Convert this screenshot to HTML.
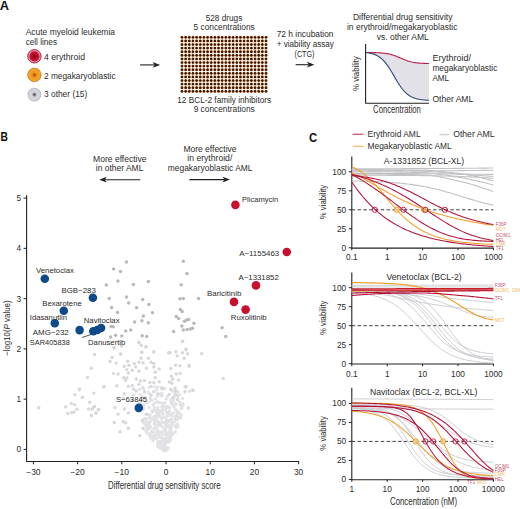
<!DOCTYPE html>
<html><head><meta charset="utf-8"><style>
html,body{margin:0;padding:0;background:#fff;}
svg{display:block;}
text{font-family:"Liberation Sans", sans-serif;}
</style></head><body>
<svg width="520" height="509" viewBox="0 0 520 509">
<rect width="520" height="509" fill="#fff"/>
<defs>
<radialGradient id="gEry"><stop offset="0" stop-color="#8a0418"/><stop offset="0.5" stop-color="#b80a28"/><stop offset="1" stop-color="#c81838"/></radialGradient>
<radialGradient id="gMeg"><stop offset="0" stop-color="#7a3000"/><stop offset="0.15" stop-color="#c86a10"/><stop offset="0.4" stop-color="#eb9a20"/><stop offset="0.85" stop-color="#f2a62a"/><stop offset="1" stop-color="#d8882a"/></radialGradient>
<radialGradient id="gDot"><stop offset="0" stop-color="#2a1000"/><stop offset="0.55" stop-color="#4a2005"/><stop offset="1" stop-color="#b87038"/></radialGradient>
<radialGradient id="gOth"><stop offset="0" stop-color="#2a2a2a"/><stop offset="0.17" stop-color="#8a8a90"/><stop offset="0.38" stop-color="#d4d4dc"/><stop offset="0.8" stop-color="#d2d2da"/><stop offset="1" stop-color="#b0b0b8"/></radialGradient>
</defs>
<text x="-0.2" y="9.9" font-size="12.0" fill="#111" font-weight="bold" text-anchor="start" textLength="9.3" lengthAdjust="spacingAndGlyphs">A</text>
<text x="25.7" y="35.0" font-size="8.5" fill="#2b2b2b" font-weight="normal" text-anchor="start" textLength="89.3" lengthAdjust="spacingAndGlyphs">Acute myeloid leukemia</text>
<text x="25.7" y="44.6" font-size="8.5" fill="#2b2b2b" font-weight="normal" text-anchor="start" textLength="31.3" lengthAdjust="spacingAndGlyphs">cell lines</text>
<circle cx="34.4" cy="56.3" r="6.7" fill="#eb9aae" stroke="#a80c2c" stroke-width="0.9"/>
<circle cx="34.4" cy="56.3" r="5.1" fill="url(#gEry)"/>
<circle cx="34.4" cy="74.9" r="6.8" fill="url(#gMeg)" stroke="#c8802a" stroke-width="0.7"/>
<circle cx="34.4" cy="94.6" r="6.9" fill="url(#gOth)"/>
<text x="44.0" y="59.6" font-size="8.5" fill="#2b2b2b" font-weight="normal" text-anchor="start" textLength="41.0" lengthAdjust="spacingAndGlyphs">4 erythroid</text>
<text x="44.0" y="78.5" font-size="8.5" fill="#2b2b2b" font-weight="normal" text-anchor="start" textLength="71.6" lengthAdjust="spacingAndGlyphs">2 megakaryoblastic</text>
<text x="44.0" y="97.4" font-size="8.5" fill="#2b2b2b" font-weight="normal" text-anchor="start" textLength="43.3" lengthAdjust="spacingAndGlyphs">3 other (15)</text>
<line x1="140.10" y1="64.90" x2="154.57" y2="64.90" stroke="#222" stroke-width="1.1"/>
<path d="M160.20,64.90 L152.70,62.00 L154.57,64.90 L152.70,67.80 Z" fill="#222"/>
<text x="224.0" y="20.6" font-size="8.5" fill="#2b2b2b" font-weight="normal" text-anchor="middle" textLength="36.7" lengthAdjust="spacingAndGlyphs">528 drugs</text>
<text x="224.1" y="30.1" font-size="8.5" fill="#2b2b2b" font-weight="normal" text-anchor="middle" textLength="61.2" lengthAdjust="spacingAndGlyphs">5 concentrations</text>
<g fill="url(#gDot)">
<circle cx="182.00" cy="37.30" r="1.62"/>
<circle cx="185.65" cy="37.30" r="1.62"/>
<circle cx="189.30" cy="37.30" r="1.62"/>
<circle cx="192.96" cy="37.30" r="1.62"/>
<circle cx="196.61" cy="37.30" r="1.62"/>
<circle cx="200.26" cy="37.30" r="1.62"/>
<circle cx="203.91" cy="37.30" r="1.62"/>
<circle cx="207.57" cy="37.30" r="1.62"/>
<circle cx="211.22" cy="37.30" r="1.62"/>
<circle cx="214.87" cy="37.30" r="1.62"/>
<circle cx="218.52" cy="37.30" r="1.62"/>
<circle cx="222.17" cy="37.30" r="1.62"/>
<circle cx="225.83" cy="37.30" r="1.62"/>
<circle cx="229.48" cy="37.30" r="1.62"/>
<circle cx="233.13" cy="37.30" r="1.62"/>
<circle cx="236.78" cy="37.30" r="1.62"/>
<circle cx="240.43" cy="37.30" r="1.62"/>
<circle cx="244.09" cy="37.30" r="1.62"/>
<circle cx="247.74" cy="37.30" r="1.62"/>
<circle cx="251.39" cy="37.30" r="1.62"/>
<circle cx="255.04" cy="37.30" r="1.62"/>
<circle cx="258.70" cy="37.30" r="1.62"/>
<circle cx="262.35" cy="37.30" r="1.62"/>
<circle cx="266.00" cy="37.30" r="1.62"/>
<circle cx="182.00" cy="40.90" r="1.62"/>
<circle cx="185.65" cy="40.90" r="1.62"/>
<circle cx="189.30" cy="40.90" r="1.62"/>
<circle cx="192.96" cy="40.90" r="1.62"/>
<circle cx="196.61" cy="40.90" r="1.62"/>
<circle cx="200.26" cy="40.90" r="1.62"/>
<circle cx="203.91" cy="40.90" r="1.62"/>
<circle cx="207.57" cy="40.90" r="1.62"/>
<circle cx="211.22" cy="40.90" r="1.62"/>
<circle cx="214.87" cy="40.90" r="1.62"/>
<circle cx="218.52" cy="40.90" r="1.62"/>
<circle cx="222.17" cy="40.90" r="1.62"/>
<circle cx="225.83" cy="40.90" r="1.62"/>
<circle cx="229.48" cy="40.90" r="1.62"/>
<circle cx="233.13" cy="40.90" r="1.62"/>
<circle cx="236.78" cy="40.90" r="1.62"/>
<circle cx="240.43" cy="40.90" r="1.62"/>
<circle cx="244.09" cy="40.90" r="1.62"/>
<circle cx="247.74" cy="40.90" r="1.62"/>
<circle cx="251.39" cy="40.90" r="1.62"/>
<circle cx="255.04" cy="40.90" r="1.62"/>
<circle cx="258.70" cy="40.90" r="1.62"/>
<circle cx="262.35" cy="40.90" r="1.62"/>
<circle cx="266.00" cy="40.90" r="1.62"/>
<circle cx="182.00" cy="44.50" r="1.62"/>
<circle cx="185.65" cy="44.50" r="1.62"/>
<circle cx="189.30" cy="44.50" r="1.62"/>
<circle cx="192.96" cy="44.50" r="1.62"/>
<circle cx="196.61" cy="44.50" r="1.62"/>
<circle cx="200.26" cy="44.50" r="1.62"/>
<circle cx="203.91" cy="44.50" r="1.62"/>
<circle cx="207.57" cy="44.50" r="1.62"/>
<circle cx="211.22" cy="44.50" r="1.62"/>
<circle cx="214.87" cy="44.50" r="1.62"/>
<circle cx="218.52" cy="44.50" r="1.62"/>
<circle cx="222.17" cy="44.50" r="1.62"/>
<circle cx="225.83" cy="44.50" r="1.62"/>
<circle cx="229.48" cy="44.50" r="1.62"/>
<circle cx="233.13" cy="44.50" r="1.62"/>
<circle cx="236.78" cy="44.50" r="1.62"/>
<circle cx="240.43" cy="44.50" r="1.62"/>
<circle cx="244.09" cy="44.50" r="1.62"/>
<circle cx="247.74" cy="44.50" r="1.62"/>
<circle cx="251.39" cy="44.50" r="1.62"/>
<circle cx="255.04" cy="44.50" r="1.62"/>
<circle cx="258.70" cy="44.50" r="1.62"/>
<circle cx="262.35" cy="44.50" r="1.62"/>
<circle cx="266.00" cy="44.50" r="1.62"/>
<circle cx="182.00" cy="48.10" r="1.62"/>
<circle cx="185.65" cy="48.10" r="1.62"/>
<circle cx="189.30" cy="48.10" r="1.62"/>
<circle cx="192.96" cy="48.10" r="1.62"/>
<circle cx="196.61" cy="48.10" r="1.62"/>
<circle cx="200.26" cy="48.10" r="1.62"/>
<circle cx="203.91" cy="48.10" r="1.62"/>
<circle cx="207.57" cy="48.10" r="1.62"/>
<circle cx="211.22" cy="48.10" r="1.62"/>
<circle cx="214.87" cy="48.10" r="1.62"/>
<circle cx="218.52" cy="48.10" r="1.62"/>
<circle cx="222.17" cy="48.10" r="1.62"/>
<circle cx="225.83" cy="48.10" r="1.62"/>
<circle cx="229.48" cy="48.10" r="1.62"/>
<circle cx="233.13" cy="48.10" r="1.62"/>
<circle cx="236.78" cy="48.10" r="1.62"/>
<circle cx="240.43" cy="48.10" r="1.62"/>
<circle cx="244.09" cy="48.10" r="1.62"/>
<circle cx="247.74" cy="48.10" r="1.62"/>
<circle cx="251.39" cy="48.10" r="1.62"/>
<circle cx="255.04" cy="48.10" r="1.62"/>
<circle cx="258.70" cy="48.10" r="1.62"/>
<circle cx="262.35" cy="48.10" r="1.62"/>
<circle cx="266.00" cy="48.10" r="1.62"/>
<circle cx="182.00" cy="51.70" r="1.62"/>
<circle cx="185.65" cy="51.70" r="1.62"/>
<circle cx="189.30" cy="51.70" r="1.62"/>
<circle cx="192.96" cy="51.70" r="1.62"/>
<circle cx="196.61" cy="51.70" r="1.62"/>
<circle cx="200.26" cy="51.70" r="1.62"/>
<circle cx="203.91" cy="51.70" r="1.62"/>
<circle cx="207.57" cy="51.70" r="1.62"/>
<circle cx="211.22" cy="51.70" r="1.62"/>
<circle cx="214.87" cy="51.70" r="1.62"/>
<circle cx="218.52" cy="51.70" r="1.62"/>
<circle cx="222.17" cy="51.70" r="1.62"/>
<circle cx="225.83" cy="51.70" r="1.62"/>
<circle cx="229.48" cy="51.70" r="1.62"/>
<circle cx="233.13" cy="51.70" r="1.62"/>
<circle cx="236.78" cy="51.70" r="1.62"/>
<circle cx="240.43" cy="51.70" r="1.62"/>
<circle cx="244.09" cy="51.70" r="1.62"/>
<circle cx="247.74" cy="51.70" r="1.62"/>
<circle cx="251.39" cy="51.70" r="1.62"/>
<circle cx="255.04" cy="51.70" r="1.62"/>
<circle cx="258.70" cy="51.70" r="1.62"/>
<circle cx="262.35" cy="51.70" r="1.62"/>
<circle cx="266.00" cy="51.70" r="1.62"/>
<circle cx="182.00" cy="55.30" r="1.62"/>
<circle cx="185.65" cy="55.30" r="1.62"/>
<circle cx="189.30" cy="55.30" r="1.62"/>
<circle cx="192.96" cy="55.30" r="1.62"/>
<circle cx="196.61" cy="55.30" r="1.62"/>
<circle cx="200.26" cy="55.30" r="1.62"/>
<circle cx="203.91" cy="55.30" r="1.62"/>
<circle cx="207.57" cy="55.30" r="1.62"/>
<circle cx="211.22" cy="55.30" r="1.62"/>
<circle cx="214.87" cy="55.30" r="1.62"/>
<circle cx="218.52" cy="55.30" r="1.62"/>
<circle cx="222.17" cy="55.30" r="1.62"/>
<circle cx="225.83" cy="55.30" r="1.62"/>
<circle cx="229.48" cy="55.30" r="1.62"/>
<circle cx="233.13" cy="55.30" r="1.62"/>
<circle cx="236.78" cy="55.30" r="1.62"/>
<circle cx="240.43" cy="55.30" r="1.62"/>
<circle cx="244.09" cy="55.30" r="1.62"/>
<circle cx="247.74" cy="55.30" r="1.62"/>
<circle cx="251.39" cy="55.30" r="1.62"/>
<circle cx="255.04" cy="55.30" r="1.62"/>
<circle cx="258.70" cy="55.30" r="1.62"/>
<circle cx="262.35" cy="55.30" r="1.62"/>
<circle cx="266.00" cy="55.30" r="1.62"/>
<circle cx="182.00" cy="58.90" r="1.62"/>
<circle cx="185.65" cy="58.90" r="1.62"/>
<circle cx="189.30" cy="58.90" r="1.62"/>
<circle cx="192.96" cy="58.90" r="1.62"/>
<circle cx="196.61" cy="58.90" r="1.62"/>
<circle cx="200.26" cy="58.90" r="1.62"/>
<circle cx="203.91" cy="58.90" r="1.62"/>
<circle cx="207.57" cy="58.90" r="1.62"/>
<circle cx="211.22" cy="58.90" r="1.62"/>
<circle cx="214.87" cy="58.90" r="1.62"/>
<circle cx="218.52" cy="58.90" r="1.62"/>
<circle cx="222.17" cy="58.90" r="1.62"/>
<circle cx="225.83" cy="58.90" r="1.62"/>
<circle cx="229.48" cy="58.90" r="1.62"/>
<circle cx="233.13" cy="58.90" r="1.62"/>
<circle cx="236.78" cy="58.90" r="1.62"/>
<circle cx="240.43" cy="58.90" r="1.62"/>
<circle cx="244.09" cy="58.90" r="1.62"/>
<circle cx="247.74" cy="58.90" r="1.62"/>
<circle cx="251.39" cy="58.90" r="1.62"/>
<circle cx="255.04" cy="58.90" r="1.62"/>
<circle cx="258.70" cy="58.90" r="1.62"/>
<circle cx="262.35" cy="58.90" r="1.62"/>
<circle cx="266.00" cy="58.90" r="1.62"/>
<circle cx="182.00" cy="62.50" r="1.62"/>
<circle cx="185.65" cy="62.50" r="1.62"/>
<circle cx="189.30" cy="62.50" r="1.62"/>
<circle cx="192.96" cy="62.50" r="1.62"/>
<circle cx="196.61" cy="62.50" r="1.62"/>
<circle cx="200.26" cy="62.50" r="1.62"/>
<circle cx="203.91" cy="62.50" r="1.62"/>
<circle cx="207.57" cy="62.50" r="1.62"/>
<circle cx="211.22" cy="62.50" r="1.62"/>
<circle cx="214.87" cy="62.50" r="1.62"/>
<circle cx="218.52" cy="62.50" r="1.62"/>
<circle cx="222.17" cy="62.50" r="1.62"/>
<circle cx="225.83" cy="62.50" r="1.62"/>
<circle cx="229.48" cy="62.50" r="1.62"/>
<circle cx="233.13" cy="62.50" r="1.62"/>
<circle cx="236.78" cy="62.50" r="1.62"/>
<circle cx="240.43" cy="62.50" r="1.62"/>
<circle cx="244.09" cy="62.50" r="1.62"/>
<circle cx="247.74" cy="62.50" r="1.62"/>
<circle cx="251.39" cy="62.50" r="1.62"/>
<circle cx="255.04" cy="62.50" r="1.62"/>
<circle cx="258.70" cy="62.50" r="1.62"/>
<circle cx="262.35" cy="62.50" r="1.62"/>
<circle cx="266.00" cy="62.50" r="1.62"/>
<circle cx="182.00" cy="66.10" r="1.62"/>
<circle cx="185.65" cy="66.10" r="1.62"/>
<circle cx="189.30" cy="66.10" r="1.62"/>
<circle cx="192.96" cy="66.10" r="1.62"/>
<circle cx="196.61" cy="66.10" r="1.62"/>
<circle cx="200.26" cy="66.10" r="1.62"/>
<circle cx="203.91" cy="66.10" r="1.62"/>
<circle cx="207.57" cy="66.10" r="1.62"/>
<circle cx="211.22" cy="66.10" r="1.62"/>
<circle cx="214.87" cy="66.10" r="1.62"/>
<circle cx="218.52" cy="66.10" r="1.62"/>
<circle cx="222.17" cy="66.10" r="1.62"/>
<circle cx="225.83" cy="66.10" r="1.62"/>
<circle cx="229.48" cy="66.10" r="1.62"/>
<circle cx="233.13" cy="66.10" r="1.62"/>
<circle cx="236.78" cy="66.10" r="1.62"/>
<circle cx="240.43" cy="66.10" r="1.62"/>
<circle cx="244.09" cy="66.10" r="1.62"/>
<circle cx="247.74" cy="66.10" r="1.62"/>
<circle cx="251.39" cy="66.10" r="1.62"/>
<circle cx="255.04" cy="66.10" r="1.62"/>
<circle cx="258.70" cy="66.10" r="1.62"/>
<circle cx="262.35" cy="66.10" r="1.62"/>
<circle cx="266.00" cy="66.10" r="1.62"/>
<circle cx="182.00" cy="69.70" r="1.62"/>
<circle cx="185.65" cy="69.70" r="1.62"/>
<circle cx="189.30" cy="69.70" r="1.62"/>
<circle cx="192.96" cy="69.70" r="1.62"/>
<circle cx="196.61" cy="69.70" r="1.62"/>
<circle cx="200.26" cy="69.70" r="1.62"/>
<circle cx="203.91" cy="69.70" r="1.62"/>
<circle cx="207.57" cy="69.70" r="1.62"/>
<circle cx="211.22" cy="69.70" r="1.62"/>
<circle cx="214.87" cy="69.70" r="1.62"/>
<circle cx="218.52" cy="69.70" r="1.62"/>
<circle cx="222.17" cy="69.70" r="1.62"/>
<circle cx="225.83" cy="69.70" r="1.62"/>
<circle cx="229.48" cy="69.70" r="1.62"/>
<circle cx="233.13" cy="69.70" r="1.62"/>
<circle cx="236.78" cy="69.70" r="1.62"/>
<circle cx="240.43" cy="69.70" r="1.62"/>
<circle cx="244.09" cy="69.70" r="1.62"/>
<circle cx="247.74" cy="69.70" r="1.62"/>
<circle cx="251.39" cy="69.70" r="1.62"/>
<circle cx="255.04" cy="69.70" r="1.62"/>
<circle cx="258.70" cy="69.70" r="1.62"/>
<circle cx="262.35" cy="69.70" r="1.62"/>
<circle cx="266.00" cy="69.70" r="1.62"/>
<circle cx="182.00" cy="73.30" r="1.62"/>
<circle cx="185.65" cy="73.30" r="1.62"/>
<circle cx="189.30" cy="73.30" r="1.62"/>
<circle cx="192.96" cy="73.30" r="1.62"/>
<circle cx="196.61" cy="73.30" r="1.62"/>
<circle cx="200.26" cy="73.30" r="1.62"/>
<circle cx="203.91" cy="73.30" r="1.62"/>
<circle cx="207.57" cy="73.30" r="1.62"/>
<circle cx="211.22" cy="73.30" r="1.62"/>
<circle cx="214.87" cy="73.30" r="1.62"/>
<circle cx="218.52" cy="73.30" r="1.62"/>
<circle cx="222.17" cy="73.30" r="1.62"/>
<circle cx="225.83" cy="73.30" r="1.62"/>
<circle cx="229.48" cy="73.30" r="1.62"/>
<circle cx="233.13" cy="73.30" r="1.62"/>
<circle cx="236.78" cy="73.30" r="1.62"/>
<circle cx="240.43" cy="73.30" r="1.62"/>
<circle cx="244.09" cy="73.30" r="1.62"/>
<circle cx="247.74" cy="73.30" r="1.62"/>
<circle cx="251.39" cy="73.30" r="1.62"/>
<circle cx="255.04" cy="73.30" r="1.62"/>
<circle cx="258.70" cy="73.30" r="1.62"/>
<circle cx="262.35" cy="73.30" r="1.62"/>
<circle cx="266.00" cy="73.30" r="1.62"/>
<circle cx="182.00" cy="76.90" r="1.62"/>
<circle cx="185.65" cy="76.90" r="1.62"/>
<circle cx="189.30" cy="76.90" r="1.62"/>
<circle cx="192.96" cy="76.90" r="1.62"/>
<circle cx="196.61" cy="76.90" r="1.62"/>
<circle cx="200.26" cy="76.90" r="1.62"/>
<circle cx="203.91" cy="76.90" r="1.62"/>
<circle cx="207.57" cy="76.90" r="1.62"/>
<circle cx="211.22" cy="76.90" r="1.62"/>
<circle cx="214.87" cy="76.90" r="1.62"/>
<circle cx="218.52" cy="76.90" r="1.62"/>
<circle cx="222.17" cy="76.90" r="1.62"/>
<circle cx="225.83" cy="76.90" r="1.62"/>
<circle cx="229.48" cy="76.90" r="1.62"/>
<circle cx="233.13" cy="76.90" r="1.62"/>
<circle cx="236.78" cy="76.90" r="1.62"/>
<circle cx="240.43" cy="76.90" r="1.62"/>
<circle cx="244.09" cy="76.90" r="1.62"/>
<circle cx="247.74" cy="76.90" r="1.62"/>
<circle cx="251.39" cy="76.90" r="1.62"/>
<circle cx="255.04" cy="76.90" r="1.62"/>
<circle cx="258.70" cy="76.90" r="1.62"/>
<circle cx="262.35" cy="76.90" r="1.62"/>
<circle cx="266.00" cy="76.90" r="1.62"/>
<circle cx="182.00" cy="80.50" r="1.62"/>
<circle cx="185.65" cy="80.50" r="1.62"/>
<circle cx="189.30" cy="80.50" r="1.62"/>
<circle cx="192.96" cy="80.50" r="1.62"/>
<circle cx="196.61" cy="80.50" r="1.62"/>
<circle cx="200.26" cy="80.50" r="1.62"/>
<circle cx="203.91" cy="80.50" r="1.62"/>
<circle cx="207.57" cy="80.50" r="1.62"/>
<circle cx="211.22" cy="80.50" r="1.62"/>
<circle cx="214.87" cy="80.50" r="1.62"/>
<circle cx="218.52" cy="80.50" r="1.62"/>
<circle cx="222.17" cy="80.50" r="1.62"/>
<circle cx="225.83" cy="80.50" r="1.62"/>
<circle cx="229.48" cy="80.50" r="1.62"/>
<circle cx="233.13" cy="80.50" r="1.62"/>
<circle cx="236.78" cy="80.50" r="1.62"/>
<circle cx="240.43" cy="80.50" r="1.62"/>
<circle cx="244.09" cy="80.50" r="1.62"/>
<circle cx="247.74" cy="80.50" r="1.62"/>
<circle cx="251.39" cy="80.50" r="1.62"/>
<circle cx="255.04" cy="80.50" r="1.62"/>
<circle cx="258.70" cy="80.50" r="1.62"/>
<circle cx="262.35" cy="80.50" r="1.62"/>
<circle cx="266.00" cy="80.50" r="1.62"/>
<circle cx="182.00" cy="84.10" r="1.62"/>
<circle cx="185.65" cy="84.10" r="1.62"/>
<circle cx="189.30" cy="84.10" r="1.62"/>
<circle cx="192.96" cy="84.10" r="1.62"/>
<circle cx="196.61" cy="84.10" r="1.62"/>
<circle cx="200.26" cy="84.10" r="1.62"/>
<circle cx="203.91" cy="84.10" r="1.62"/>
<circle cx="207.57" cy="84.10" r="1.62"/>
<circle cx="211.22" cy="84.10" r="1.62"/>
<circle cx="214.87" cy="84.10" r="1.62"/>
<circle cx="218.52" cy="84.10" r="1.62"/>
<circle cx="222.17" cy="84.10" r="1.62"/>
<circle cx="225.83" cy="84.10" r="1.62"/>
<circle cx="229.48" cy="84.10" r="1.62"/>
<circle cx="233.13" cy="84.10" r="1.62"/>
<circle cx="236.78" cy="84.10" r="1.62"/>
<circle cx="240.43" cy="84.10" r="1.62"/>
<circle cx="244.09" cy="84.10" r="1.62"/>
<circle cx="247.74" cy="84.10" r="1.62"/>
<circle cx="251.39" cy="84.10" r="1.62"/>
<circle cx="255.04" cy="84.10" r="1.62"/>
<circle cx="258.70" cy="84.10" r="1.62"/>
<circle cx="262.35" cy="84.10" r="1.62"/>
<circle cx="266.00" cy="84.10" r="1.62"/>
<circle cx="182.00" cy="87.70" r="1.62"/>
<circle cx="185.65" cy="87.70" r="1.62"/>
<circle cx="189.30" cy="87.70" r="1.62"/>
<circle cx="192.96" cy="87.70" r="1.62"/>
<circle cx="196.61" cy="87.70" r="1.62"/>
<circle cx="200.26" cy="87.70" r="1.62"/>
<circle cx="203.91" cy="87.70" r="1.62"/>
<circle cx="207.57" cy="87.70" r="1.62"/>
<circle cx="211.22" cy="87.70" r="1.62"/>
<circle cx="214.87" cy="87.70" r="1.62"/>
<circle cx="218.52" cy="87.70" r="1.62"/>
<circle cx="222.17" cy="87.70" r="1.62"/>
<circle cx="225.83" cy="87.70" r="1.62"/>
<circle cx="229.48" cy="87.70" r="1.62"/>
<circle cx="233.13" cy="87.70" r="1.62"/>
<circle cx="236.78" cy="87.70" r="1.62"/>
<circle cx="240.43" cy="87.70" r="1.62"/>
<circle cx="244.09" cy="87.70" r="1.62"/>
<circle cx="247.74" cy="87.70" r="1.62"/>
<circle cx="251.39" cy="87.70" r="1.62"/>
<circle cx="255.04" cy="87.70" r="1.62"/>
<circle cx="258.70" cy="87.70" r="1.62"/>
<circle cx="262.35" cy="87.70" r="1.62"/>
<circle cx="266.00" cy="87.70" r="1.62"/>
<circle cx="182.00" cy="91.30" r="1.62"/>
<circle cx="185.65" cy="91.30" r="1.62"/>
<circle cx="189.30" cy="91.30" r="1.62"/>
<circle cx="192.96" cy="91.30" r="1.62"/>
<circle cx="196.61" cy="91.30" r="1.62"/>
<circle cx="200.26" cy="91.30" r="1.62"/>
<circle cx="203.91" cy="91.30" r="1.62"/>
<circle cx="207.57" cy="91.30" r="1.62"/>
<circle cx="211.22" cy="91.30" r="1.62"/>
<circle cx="214.87" cy="91.30" r="1.62"/>
<circle cx="218.52" cy="91.30" r="1.62"/>
<circle cx="222.17" cy="91.30" r="1.62"/>
<circle cx="225.83" cy="91.30" r="1.62"/>
<circle cx="229.48" cy="91.30" r="1.62"/>
<circle cx="233.13" cy="91.30" r="1.62"/>
<circle cx="236.78" cy="91.30" r="1.62"/>
<circle cx="240.43" cy="91.30" r="1.62"/>
<circle cx="244.09" cy="91.30" r="1.62"/>
<circle cx="247.74" cy="91.30" r="1.62"/>
<circle cx="251.39" cy="91.30" r="1.62"/>
<circle cx="255.04" cy="91.30" r="1.62"/>
<circle cx="258.70" cy="91.30" r="1.62"/>
<circle cx="262.35" cy="91.30" r="1.62"/>
<circle cx="266.00" cy="91.30" r="1.62"/>
</g>
<text x="224.2" y="103.4" font-size="8.5" fill="#2b2b2b" font-weight="normal" text-anchor="middle" textLength="93.9" lengthAdjust="spacingAndGlyphs">12 BCL-2 family inhibitors</text>
<text x="224.2" y="112.4" font-size="8.5" fill="#2b2b2b" font-weight="normal" text-anchor="middle" textLength="61.1" lengthAdjust="spacingAndGlyphs">9 concentrations</text>
<text x="305.1" y="37.4" font-size="8.5" fill="#2b2b2b" font-weight="normal" text-anchor="middle" textLength="56.8" lengthAdjust="spacingAndGlyphs">72 h incubation</text>
<text x="305.3" y="47.2" font-size="8.5" fill="#2b2b2b" font-weight="normal" text-anchor="middle" textLength="57.3" lengthAdjust="spacingAndGlyphs">+ viability assay</text>
<text x="304.5" y="56.6" font-size="8.5" fill="#2b2b2b" font-weight="normal" text-anchor="middle" textLength="19.8" lengthAdjust="spacingAndGlyphs">(CTG)</text>
<line x1="295.60" y1="64.70" x2="308.77" y2="64.70" stroke="#222" stroke-width="1.1"/>
<path d="M314.40,64.70 L306.90,61.80 L308.77,64.70 L306.90,67.60 Z" fill="#222"/>
<text x="402.7" y="20.1" font-size="8.5" fill="#2b2b2b" font-weight="normal" text-anchor="middle" textLength="99.5" lengthAdjust="spacingAndGlyphs">Differential drug sensitivity</text>
<text x="402.2" y="29.9" font-size="8.5" fill="#2b2b2b" font-weight="normal" text-anchor="middle" textLength="110.5" lengthAdjust="spacingAndGlyphs">in erythroid/megakaryoblastic</text>
<text x="402.8" y="39.7" font-size="8.5" fill="#2b2b2b" font-weight="normal" text-anchor="middle" textLength="52.0" lengthAdjust="spacingAndGlyphs">vs. other AML</text>
<polygon points="365.60,52.50 366.67,52.51 367.75,52.52 368.82,52.53 369.90,52.54 370.97,52.56 372.05,52.58 373.12,52.60 374.20,52.63 375.27,52.66 376.35,52.70 377.42,52.74 378.49,52.79 379.57,52.85 380.64,52.92 381.72,53.01 382.79,53.10 383.87,53.22 384.94,53.34 386.02,53.49 387.09,53.67 388.17,53.86 389.24,54.08 390.32,54.33 391.39,54.61 392.46,54.92 393.54,55.27 394.61,55.64 395.69,56.04 396.76,56.46 397.84,56.91 398.91,57.37 399.99,57.84 401.06,58.32 402.14,58.79 403.21,59.25 404.28,59.69 405.36,60.11 406.43,60.51 407.51,60.88 408.58,61.22 409.66,61.52 410.73,61.80 411.81,62.05 412.88,62.27 413.96,62.46 415.03,62.63 416.11,62.78 417.18,62.91 418.25,63.02 419.33,63.11 420.40,63.19 421.48,63.26 422.55,63.32 423.63,63.37 424.70,63.41 425.78,63.45 426.85,63.48 427.93,63.51 429.00,63.53 429.00,100.32 427.93,100.26 426.85,100.19 425.78,100.12 424.70,100.03 423.63,99.93 422.55,99.81 421.48,99.67 420.40,99.51 419.33,99.33 418.25,99.12 417.18,98.87 416.11,98.59 415.03,98.26 413.96,97.89 412.88,97.46 411.81,96.98 410.73,96.42 409.66,95.79 408.58,95.08 407.51,94.28 406.43,93.39 405.36,92.39 404.28,91.29 403.21,90.08 402.14,88.76 401.06,87.33 399.99,85.80 398.91,84.17 397.84,82.46 396.76,80.69 395.69,78.86 394.61,77.00 393.54,75.13 392.46,73.28 391.39,71.46 390.32,69.68 389.24,67.98 388.17,66.37 387.09,64.85 386.02,63.43 384.94,62.12 383.87,60.92 382.79,59.83 381.72,58.84 380.64,57.96 379.57,57.17 378.49,56.46 377.42,55.84 376.35,55.29 375.27,54.81 374.20,54.39 373.12,54.02 372.05,53.70 370.97,53.43 369.90,53.18 368.82,52.97 367.75,52.79 366.67,52.64 365.60,52.50" fill="#e2e1e8"/>
<polyline points="365.60,52.50 366.67,52.51 367.75,52.52 368.82,52.53 369.90,52.54 370.97,52.56 372.05,52.58 373.12,52.60 374.20,52.63 375.27,52.66 376.35,52.70 377.42,52.74 378.49,52.79 379.57,52.85 380.64,52.92 381.72,53.01 382.79,53.10 383.87,53.22 384.94,53.34 386.02,53.49 387.09,53.67 388.17,53.86 389.24,54.08 390.32,54.33 391.39,54.61 392.46,54.92 393.54,55.27 394.61,55.64 395.69,56.04 396.76,56.46 397.84,56.91 398.91,57.37 399.99,57.84 401.06,58.32 402.14,58.79 403.21,59.25 404.28,59.69 405.36,60.11 406.43,60.51 407.51,60.88 408.58,61.22 409.66,61.52 410.73,61.80 411.81,62.05 412.88,62.27 413.96,62.46 415.03,62.63 416.11,62.78 417.18,62.91 418.25,63.02 419.33,63.11 420.40,63.19 421.48,63.26 422.55,63.32 423.63,63.37 424.70,63.41 425.78,63.45 426.85,63.48 427.93,63.51 429.00,63.53" fill="none" stroke="#b81e4a" stroke-width="1.1"/>
<polyline points="365.60,52.50 366.67,52.64 367.75,52.79 368.82,52.97 369.90,53.18 370.97,53.43 372.05,53.70 373.12,54.02 374.20,54.39 375.27,54.81 376.35,55.29 377.42,55.84 378.49,56.46 379.57,57.17 380.64,57.96 381.72,58.84 382.79,59.83 383.87,60.92 384.94,62.12 386.02,63.43 387.09,64.85 388.17,66.37 389.24,67.98 390.32,69.68 391.39,71.46 392.46,73.28 393.54,75.13 394.61,77.00 395.69,78.86 396.76,80.69 397.84,82.46 398.91,84.17 399.99,85.80 401.06,87.33 402.14,88.76 403.21,90.08 404.28,91.29 405.36,92.39 406.43,93.39 407.51,94.28 408.58,95.08 409.66,95.79 410.73,96.42 411.81,96.98 412.88,97.46 413.96,97.89 415.03,98.26 416.11,98.59 417.18,98.87 418.25,99.12 419.33,99.33 420.40,99.51 421.48,99.67 422.55,99.81 423.63,99.93 424.70,100.03 425.78,100.12 426.85,100.19 427.93,100.26 429.00,100.32" fill="none" stroke="#2a4a7a" stroke-width="1.1"/>
<polyline points="365.6,44.0 365.6,103.3 429.0,103.3" fill="none" stroke="#222" stroke-width="1.1"/>
<text transform="translate(358.9,73.6) rotate(-90)" font-size="9.2" fill="#2b2b2b" text-anchor="middle" textLength="34.7" lengthAdjust="spacingAndGlyphs">% viability</text>
<text x="397.0" y="113.4" font-size="10.0" fill="#2b2b2b" font-weight="normal" text-anchor="middle" textLength="47.8" lengthAdjust="spacingAndGlyphs">Concentration</text>
<text x="432.4" y="60.9" font-size="8.5" fill="#2b2b2b" font-weight="normal" text-anchor="start" textLength="38.5" lengthAdjust="spacingAndGlyphs">Erythroid/</text>
<text x="432.4" y="70.6" font-size="8.5" fill="#2b2b2b" font-weight="normal" text-anchor="start" textLength="65.0" lengthAdjust="spacingAndGlyphs">megakaryoblastic</text>
<text x="432.4" y="80.7" font-size="8.5" fill="#2b2b2b" font-weight="normal" text-anchor="start" textLength="16.5" lengthAdjust="spacingAndGlyphs">AML</text>
<text x="432.4" y="102.2" font-size="8.5" fill="#2b2b2b" font-weight="normal" text-anchor="start" textLength="40.8" lengthAdjust="spacingAndGlyphs">Other AML</text>
<text x="0.4" y="141.3" font-size="12.0" fill="#111" font-weight="bold" text-anchor="start" textLength="7.4" lengthAdjust="spacingAndGlyphs">B</text>
<text x="119.8" y="161.5" font-size="8.5" fill="#2b2b2b" font-weight="normal" text-anchor="middle" textLength="53.4" lengthAdjust="spacingAndGlyphs">More effective</text>
<text x="119.6" y="171.2" font-size="8.5" fill="#2b2b2b" font-weight="normal" text-anchor="middle" textLength="47.6" lengthAdjust="spacingAndGlyphs">in other AML</text>
<line x1="140.30" y1="179.70" x2="104.83" y2="179.70" stroke="#222" stroke-width="1.1"/>
<path d="M99.20,179.70 L106.70,176.80 L104.83,179.70 L106.70,182.60 Z" fill="#222"/>
<text x="210.0" y="151.8" font-size="8.5" fill="#2b2b2b" font-weight="normal" text-anchor="middle" textLength="53.2" lengthAdjust="spacingAndGlyphs">More effective</text>
<text x="209.8" y="161.3" font-size="8.5" fill="#2b2b2b" font-weight="normal" text-anchor="middle" textLength="45.0" lengthAdjust="spacingAndGlyphs">in erythroid/</text>
<text x="210.1" y="171.0" font-size="8.5" fill="#2b2b2b" font-weight="normal" text-anchor="middle" textLength="84.7" lengthAdjust="spacingAndGlyphs">megakaryoblastic AML</text>
<line x1="189.40" y1="179.60" x2="224.38" y2="179.60" stroke="#222" stroke-width="1.1"/>
<path d="M230.00,179.60 L222.50,176.70 L224.38,179.60 L222.50,182.50 Z" fill="#222"/>
<g fill="#e2e2e6">
<circle cx="154.1" cy="416.4" r="1.65"/>
<circle cx="159.9" cy="402.6" r="1.65"/>
<circle cx="178.1" cy="426.4" r="1.65"/>
<circle cx="167.3" cy="396.4" r="1.65"/>
<circle cx="164.8" cy="445.6" r="1.65"/>
<circle cx="152.0" cy="418.3" r="1.65"/>
<circle cx="171.6" cy="398.5" r="1.65"/>
<circle cx="174.9" cy="419.1" r="1.65"/>
<circle cx="149.6" cy="434.2" r="1.65"/>
<circle cx="175.9" cy="419.0" r="1.65"/>
<circle cx="145.6" cy="424.9" r="1.65"/>
<circle cx="166.1" cy="425.3" r="1.65"/>
<circle cx="157.8" cy="395.8" r="1.65"/>
<circle cx="170.6" cy="400.0" r="1.65"/>
<circle cx="164.9" cy="442.8" r="1.65"/>
<circle cx="148.5" cy="423.0" r="1.65"/>
<circle cx="164.1" cy="446.3" r="1.65"/>
<circle cx="164.6" cy="443.5" r="1.65"/>
<circle cx="158.4" cy="410.5" r="1.65"/>
<circle cx="154.9" cy="421.6" r="1.65"/>
<circle cx="149.2" cy="387.6" r="1.65"/>
<circle cx="163.0" cy="413.8" r="1.65"/>
<circle cx="166.1" cy="408.4" r="1.65"/>
<circle cx="163.0" cy="409.1" r="1.65"/>
<circle cx="170.2" cy="419.3" r="1.65"/>
<circle cx="155.4" cy="398.9" r="1.65"/>
<circle cx="181.5" cy="408.5" r="1.65"/>
<circle cx="181.2" cy="414.9" r="1.65"/>
<circle cx="158.7" cy="423.7" r="1.65"/>
<circle cx="179.4" cy="412.8" r="1.65"/>
<circle cx="162.8" cy="413.9" r="1.65"/>
<circle cx="157.8" cy="407.6" r="1.65"/>
<circle cx="153.1" cy="440.6" r="1.65"/>
<circle cx="165.5" cy="417.1" r="1.65"/>
<circle cx="182.7" cy="405.9" r="1.65"/>
<circle cx="165.8" cy="426.8" r="1.65"/>
<circle cx="166.3" cy="439.0" r="1.65"/>
<circle cx="177.3" cy="420.0" r="1.65"/>
<circle cx="148.1" cy="402.2" r="1.65"/>
<circle cx="164.8" cy="388.5" r="1.65"/>
<circle cx="145.7" cy="430.1" r="1.65"/>
<circle cx="164.1" cy="447.0" r="1.65"/>
<circle cx="164.7" cy="428.8" r="1.65"/>
<circle cx="167.1" cy="448.4" r="1.65"/>
<circle cx="154.4" cy="408.0" r="1.65"/>
<circle cx="171.4" cy="426.7" r="1.65"/>
<circle cx="167.3" cy="442.1" r="1.65"/>
<circle cx="171.0" cy="435.8" r="1.65"/>
<circle cx="166.4" cy="423.3" r="1.65"/>
<circle cx="167.8" cy="439.6" r="1.65"/>
<circle cx="151.8" cy="410.7" r="1.65"/>
<circle cx="147.7" cy="428.7" r="1.65"/>
<circle cx="156.7" cy="410.5" r="1.65"/>
<circle cx="150.6" cy="400.0" r="1.65"/>
<circle cx="154.1" cy="423.6" r="1.65"/>
<circle cx="151.3" cy="435.6" r="1.65"/>
<circle cx="150.2" cy="426.3" r="1.65"/>
<circle cx="160.3" cy="443.5" r="1.65"/>
<circle cx="164.9" cy="439.7" r="1.65"/>
<circle cx="150.2" cy="398.4" r="1.65"/>
<circle cx="171.8" cy="434.6" r="1.65"/>
<circle cx="167.0" cy="440.8" r="1.65"/>
<circle cx="150.2" cy="427.7" r="1.65"/>
<circle cx="166.9" cy="435.2" r="1.65"/>
<circle cx="158.8" cy="410.6" r="1.65"/>
<circle cx="162.2" cy="440.9" r="1.65"/>
<circle cx="169.7" cy="421.6" r="1.65"/>
<circle cx="170.2" cy="440.0" r="1.65"/>
<circle cx="158.6" cy="445.8" r="1.65"/>
<circle cx="163.3" cy="450.2" r="1.65"/>
<circle cx="159.4" cy="423.4" r="1.65"/>
<circle cx="182.7" cy="398.4" r="1.65"/>
<circle cx="149.8" cy="436.0" r="1.65"/>
<circle cx="159.7" cy="432.8" r="1.65"/>
<circle cx="157.6" cy="402.0" r="1.65"/>
<circle cx="149.5" cy="417.5" r="1.65"/>
<circle cx="163.6" cy="403.3" r="1.65"/>
<circle cx="166.5" cy="419.6" r="1.65"/>
<circle cx="143.0" cy="397.7" r="1.65"/>
<circle cx="167.0" cy="449.7" r="1.65"/>
<circle cx="162.5" cy="449.0" r="1.65"/>
<circle cx="177.7" cy="418.3" r="1.65"/>
<circle cx="166.7" cy="406.5" r="1.65"/>
<circle cx="169.7" cy="435.5" r="1.65"/>
<circle cx="171.5" cy="432.0" r="1.65"/>
<circle cx="155.4" cy="433.8" r="1.65"/>
<circle cx="155.2" cy="424.8" r="1.65"/>
<circle cx="161.9" cy="396.1" r="1.65"/>
<circle cx="165.0" cy="448.8" r="1.65"/>
<circle cx="175.9" cy="404.3" r="1.65"/>
<circle cx="176.4" cy="427.8" r="1.65"/>
<circle cx="169.9" cy="413.0" r="1.65"/>
<circle cx="169.6" cy="407.8" r="1.65"/>
<circle cx="171.4" cy="421.9" r="1.65"/>
<circle cx="158.3" cy="416.5" r="1.65"/>
<circle cx="170.3" cy="420.0" r="1.65"/>
<circle cx="163.5" cy="422.6" r="1.65"/>
<circle cx="145.8" cy="421.8" r="1.65"/>
<circle cx="162.6" cy="432.0" r="1.65"/>
<circle cx="166.6" cy="416.3" r="1.65"/>
<circle cx="165.5" cy="430.1" r="1.65"/>
<circle cx="157.6" cy="422.3" r="1.65"/>
<circle cx="160.7" cy="410.7" r="1.65"/>
<circle cx="155.5" cy="418.7" r="1.65"/>
<circle cx="170.5" cy="415.1" r="1.65"/>
<circle cx="177.2" cy="411.3" r="1.65"/>
<circle cx="167.5" cy="422.3" r="1.65"/>
<circle cx="158.5" cy="423.9" r="1.65"/>
<circle cx="153.1" cy="405.0" r="1.65"/>
<circle cx="164.7" cy="450.9" r="1.65"/>
<circle cx="165.6" cy="410.2" r="1.65"/>
<circle cx="160.5" cy="443.8" r="1.65"/>
<circle cx="162.3" cy="443.5" r="1.65"/>
<circle cx="150.1" cy="418.1" r="1.65"/>
<circle cx="168.3" cy="439.8" r="1.65"/>
<circle cx="159.9" cy="435.9" r="1.65"/>
<circle cx="150.4" cy="421.5" r="1.65"/>
<circle cx="169.1" cy="431.9" r="1.65"/>
<circle cx="170.0" cy="433.6" r="1.65"/>
<circle cx="171.2" cy="390.1" r="1.65"/>
<circle cx="156.8" cy="427.8" r="1.65"/>
<circle cx="161.3" cy="402.8" r="1.65"/>
<circle cx="153.7" cy="404.8" r="1.65"/>
<circle cx="151.9" cy="432.1" r="1.65"/>
<circle cx="174.0" cy="406.9" r="1.65"/>
<circle cx="165.2" cy="446.0" r="1.65"/>
<circle cx="167.5" cy="435.9" r="1.65"/>
<circle cx="159.6" cy="402.7" r="1.65"/>
<circle cx="140.1" cy="394.8" r="1.65"/>
<circle cx="183.1" cy="404.4" r="1.65"/>
<circle cx="144.7" cy="397.9" r="1.65"/>
<circle cx="155.0" cy="387.0" r="1.65"/>
<circle cx="175.6" cy="403.5" r="1.65"/>
<circle cx="157.9" cy="426.1" r="1.65"/>
<circle cx="165.1" cy="444.1" r="1.65"/>
<circle cx="164.3" cy="429.1" r="1.65"/>
<circle cx="149.2" cy="393.4" r="1.65"/>
<circle cx="167.0" cy="425.8" r="1.65"/>
<circle cx="162.8" cy="407.8" r="1.65"/>
<circle cx="166.6" cy="433.1" r="1.65"/>
<circle cx="166.6" cy="441.3" r="1.65"/>
<circle cx="135.7" cy="391.0" r="1.65"/>
<circle cx="159.7" cy="441.5" r="1.65"/>
<circle cx="154.7" cy="437.2" r="1.65"/>
<circle cx="165.5" cy="438.0" r="1.65"/>
<circle cx="182.3" cy="403.4" r="1.65"/>
<circle cx="161.3" cy="393.6" r="1.65"/>
<circle cx="174.3" cy="421.8" r="1.65"/>
<circle cx="174.3" cy="403.8" r="1.65"/>
<circle cx="168.0" cy="406.3" r="1.65"/>
<circle cx="158.0" cy="442.1" r="1.65"/>
<circle cx="169.3" cy="427.3" r="1.65"/>
<circle cx="166.7" cy="433.1" r="1.65"/>
<circle cx="173.4" cy="399.3" r="1.65"/>
<circle cx="176.0" cy="416.5" r="1.65"/>
<circle cx="153.6" cy="404.7" r="1.65"/>
<circle cx="151.8" cy="400.3" r="1.65"/>
<circle cx="156.8" cy="390.1" r="1.65"/>
<circle cx="172.8" cy="434.0" r="1.65"/>
<circle cx="161.6" cy="423.2" r="1.65"/>
<circle cx="150.7" cy="438.3" r="1.65"/>
<circle cx="168.6" cy="442.2" r="1.65"/>
<circle cx="156.7" cy="419.9" r="1.65"/>
<circle cx="160.0" cy="416.5" r="1.65"/>
<circle cx="142.2" cy="406.8" r="1.65"/>
<circle cx="164.8" cy="448.0" r="1.65"/>
<circle cx="165.4" cy="407.0" r="1.65"/>
<circle cx="172.1" cy="424.3" r="1.65"/>
<circle cx="166.2" cy="398.9" r="1.65"/>
<circle cx="152.6" cy="412.2" r="1.65"/>
<circle cx="168.5" cy="421.2" r="1.65"/>
<circle cx="144.6" cy="392.6" r="1.65"/>
<circle cx="169.7" cy="441.2" r="1.65"/>
<circle cx="148.9" cy="407.6" r="1.65"/>
<circle cx="158.1" cy="445.9" r="1.65"/>
<circle cx="162.7" cy="417.7" r="1.65"/>
<circle cx="147.6" cy="414.4" r="1.65"/>
<circle cx="165.9" cy="449.8" r="1.65"/>
<circle cx="156.6" cy="438.5" r="1.65"/>
<circle cx="184.9" cy="386.8" r="1.65"/>
<circle cx="168.4" cy="415.6" r="1.65"/>
<circle cx="142.1" cy="396.8" r="1.65"/>
<circle cx="139.7" cy="389.4" r="1.65"/>
<circle cx="156.2" cy="416.2" r="1.65"/>
<circle cx="141.4" cy="404.3" r="1.65"/>
<circle cx="154.4" cy="435.1" r="1.65"/>
<circle cx="158.5" cy="435.1" r="1.65"/>
<circle cx="160.8" cy="445.7" r="1.65"/>
<circle cx="145.9" cy="402.5" r="1.65"/>
<circle cx="176.6" cy="425.2" r="1.65"/>
<circle cx="160.3" cy="432.3" r="1.65"/>
<circle cx="165.8" cy="449.2" r="1.65"/>
<circle cx="157.4" cy="444.9" r="1.65"/>
<circle cx="181.3" cy="407.6" r="1.65"/>
<circle cx="164.6" cy="445.7" r="1.65"/>
<circle cx="159.9" cy="423.0" r="1.65"/>
<circle cx="178.2" cy="396.2" r="1.65"/>
<circle cx="162.7" cy="447.5" r="1.65"/>
<circle cx="156.9" cy="412.4" r="1.65"/>
<circle cx="159.8" cy="416.6" r="1.65"/>
<circle cx="147.5" cy="414.1" r="1.65"/>
<circle cx="162.7" cy="435.0" r="1.65"/>
<circle cx="154.6" cy="438.2" r="1.65"/>
<circle cx="153.5" cy="404.1" r="1.65"/>
<circle cx="154.7" cy="410.3" r="1.65"/>
<circle cx="155.5" cy="435.2" r="1.65"/>
<circle cx="155.5" cy="402.5" r="1.65"/>
<circle cx="148.9" cy="424.3" r="1.65"/>
<circle cx="189.6" cy="391.2" r="1.65"/>
<circle cx="159.9" cy="447.8" r="1.65"/>
<circle cx="168.4" cy="425.1" r="1.65"/>
<circle cx="140.6" cy="407.3" r="1.65"/>
<circle cx="145.8" cy="421.8" r="1.65"/>
<circle cx="143.6" cy="407.7" r="1.65"/>
<circle cx="162.7" cy="446.2" r="1.65"/>
<circle cx="146.3" cy="432.0" r="1.65"/>
<circle cx="167.4" cy="448.4" r="1.65"/>
<circle cx="148.4" cy="392.1" r="1.65"/>
<circle cx="140.2" cy="400.2" r="1.65"/>
<circle cx="147.3" cy="427.2" r="1.65"/>
<circle cx="160.5" cy="444.7" r="1.65"/>
<circle cx="165.9" cy="421.6" r="1.65"/>
<circle cx="164.2" cy="439.1" r="1.65"/>
<circle cx="186.2" cy="387.0" r="1.65"/>
<circle cx="159.8" cy="437.1" r="1.65"/>
<circle cx="179.3" cy="401.9" r="1.65"/>
<circle cx="162.5" cy="406.2" r="1.65"/>
<circle cx="150.0" cy="414.8" r="1.65"/>
<circle cx="146.3" cy="418.8" r="1.65"/>
<circle cx="165.1" cy="450.4" r="1.65"/>
<circle cx="161.8" cy="419.2" r="1.65"/>
<circle cx="168.1" cy="447.8" r="1.65"/>
<circle cx="169.1" cy="426.5" r="1.65"/>
<circle cx="177.5" cy="399.7" r="1.65"/>
<circle cx="151.6" cy="431.4" r="1.65"/>
<circle cx="164.8" cy="449.4" r="1.65"/>
<circle cx="168.5" cy="413.9" r="1.65"/>
<circle cx="162.3" cy="410.8" r="1.65"/>
<circle cx="164.2" cy="448.4" r="1.65"/>
<circle cx="157.8" cy="441.9" r="1.65"/>
<circle cx="172.2" cy="404.7" r="1.65"/>
<circle cx="176.3" cy="425.2" r="1.65"/>
<circle cx="162.0" cy="438.5" r="1.65"/>
<circle cx="143.7" cy="408.8" r="1.65"/>
<circle cx="147.2" cy="426.5" r="1.65"/>
<circle cx="161.9" cy="426.4" r="1.65"/>
<circle cx="153.7" cy="419.8" r="1.65"/>
<circle cx="133.5" cy="395.2" r="1.65"/>
<circle cx="159.2" cy="413.4" r="1.65"/>
<circle cx="154.1" cy="429.2" r="1.65"/>
<circle cx="177.9" cy="416.1" r="1.65"/>
<circle cx="155.4" cy="432.7" r="1.65"/>
<circle cx="162.3" cy="411.6" r="1.65"/>
<circle cx="147.9" cy="429.7" r="1.65"/>
<circle cx="163.2" cy="450.4" r="1.65"/>
<circle cx="160.3" cy="448.3" r="1.65"/>
<circle cx="142.9" cy="399.9" r="1.65"/>
<circle cx="154.8" cy="424.5" r="1.65"/>
<circle cx="168.1" cy="438.7" r="1.65"/>
<circle cx="176.8" cy="413.8" r="1.65"/>
<circle cx="147.0" cy="419.2" r="1.65"/>
<circle cx="167.1" cy="435.8" r="1.65"/>
<circle cx="165.6" cy="450.5" r="1.65"/>
<circle cx="173.5" cy="413.0" r="1.65"/>
<circle cx="168.5" cy="427.6" r="1.65"/>
<circle cx="161.5" cy="442.8" r="1.65"/>
<circle cx="181.2" cy="404.5" r="1.65"/>
<circle cx="158.2" cy="431.2" r="1.65"/>
<circle cx="146.2" cy="425.3" r="1.65"/>
<circle cx="162.1" cy="389.2" r="1.65"/>
<circle cx="153.9" cy="409.9" r="1.65"/>
<circle cx="170.8" cy="439.5" r="1.65"/>
<circle cx="143.4" cy="423.0" r="1.65"/>
<circle cx="154.1" cy="428.4" r="1.65"/>
<circle cx="180.0" cy="404.8" r="1.65"/>
<circle cx="175.1" cy="393.7" r="1.65"/>
<circle cx="161.7" cy="395.6" r="1.65"/>
<circle cx="170.5" cy="421.7" r="1.65"/>
<circle cx="172.6" cy="415.9" r="1.65"/>
<circle cx="163.5" cy="442.8" r="1.65"/>
<circle cx="170.2" cy="437.2" r="1.65"/>
<circle cx="152.1" cy="432.5" r="1.65"/>
<circle cx="166.3" cy="407.1" r="1.65"/>
<circle cx="158.1" cy="446.5" r="1.65"/>
<circle cx="175.7" cy="409.5" r="1.65"/>
<circle cx="171.6" cy="419.3" r="1.65"/>
<circle cx="143.9" cy="404.8" r="1.65"/>
<circle cx="163.9" cy="443.2" r="1.65"/>
<circle cx="157.4" cy="414.6" r="1.65"/>
<circle cx="177.4" cy="424.2" r="1.65"/>
<circle cx="166.8" cy="412.5" r="1.65"/>
<circle cx="160.1" cy="431.9" r="1.65"/>
<circle cx="179.8" cy="417.5" r="1.65"/>
<circle cx="179.7" cy="394.3" r="1.65"/>
<circle cx="163.6" cy="441.1" r="1.65"/>
<circle cx="177.7" cy="391.7" r="1.65"/>
<circle cx="167.2" cy="448.7" r="1.65"/>
<circle cx="160.4" cy="394.1" r="1.65"/>
<circle cx="167.9" cy="412.5" r="1.65"/>
<circle cx="152.9" cy="438.1" r="1.65"/>
<circle cx="180.7" cy="418.0" r="1.65"/>
<circle cx="177.4" cy="419.2" r="1.65"/>
<circle cx="164.9" cy="403.0" r="1.65"/>
<circle cx="158.6" cy="446.3" r="1.65"/>
<circle cx="173.0" cy="391.5" r="1.65"/>
<circle cx="139.6" cy="402.6" r="1.65"/>
<circle cx="166.4" cy="448.6" r="1.65"/>
<circle cx="162.2" cy="422.4" r="1.65"/>
<circle cx="154.8" cy="409.7" r="1.65"/>
<circle cx="159.1" cy="445.5" r="1.65"/>
<circle cx="164.0" cy="443.9" r="1.65"/>
<circle cx="148.0" cy="433.7" r="1.65"/>
<circle cx="144.5" cy="418.5" r="1.65"/>
<circle cx="165.4" cy="433.9" r="1.65"/>
<circle cx="162.4" cy="394.0" r="1.65"/>
<circle cx="160.4" cy="447.0" r="1.65"/>
<circle cx="156.7" cy="433.9" r="1.65"/>
<circle cx="175.2" cy="432.0" r="1.65"/>
<circle cx="152.7" cy="436.4" r="1.65"/>
<circle cx="157.6" cy="430.7" r="1.65"/>
<circle cx="158.5" cy="416.3" r="1.65"/>
<circle cx="153.3" cy="418.1" r="1.65"/>
<circle cx="157.7" cy="395.7" r="1.65"/>
<circle cx="168.6" cy="440.4" r="1.65"/>
<circle cx="175.1" cy="426.2" r="1.65"/>
<circle cx="159.4" cy="422.1" r="1.65"/>
<circle cx="170.7" cy="429.3" r="1.65"/>
<circle cx="158.9" cy="442.6" r="1.65"/>
<circle cx="162.8" cy="403.2" r="1.65"/>
<circle cx="164.9" cy="438.6" r="1.65"/>
<circle cx="165.6" cy="423.5" r="1.65"/>
<circle cx="173.0" cy="400.6" r="1.65"/>
<circle cx="157.3" cy="434.4" r="1.65"/>
<circle cx="166.1" cy="421.3" r="1.65"/>
<circle cx="171.4" cy="403.0" r="1.65"/>
<circle cx="161.8" cy="406.9" r="1.65"/>
<circle cx="165.3" cy="431.1" r="1.65"/>
<circle cx="169.6" cy="411.0" r="1.65"/>
<circle cx="159.8" cy="425.5" r="1.65"/>
<circle cx="158.0" cy="387.1" r="1.65"/>
</g>
<g fill="#d8d8dc">
<circle cx="138.9" cy="342.2" r="1.7"/>
<circle cx="141.3" cy="345.5" r="1.7"/>
<circle cx="146.0" cy="346.9" r="1.7"/>
<circle cx="113.9" cy="347.5" r="1.7"/>
<circle cx="121.8" cy="345.9" r="1.7"/>
<circle cx="141.9" cy="352.2" r="1.7"/>
<circle cx="153.7" cy="351.6" r="1.7"/>
<circle cx="120.6" cy="354.0" r="1.7"/>
<circle cx="182.4" cy="341.3" r="1.7"/>
<circle cx="185.9" cy="349.0" r="1.7"/>
<circle cx="94.5" cy="354.5" r="1.7"/>
<circle cx="91.3" cy="368.3" r="1.7"/>
<circle cx="87.4" cy="377.4" r="1.7"/>
<circle cx="79.5" cy="389.0" r="1.7"/>
<circle cx="38.8" cy="407.7" r="1.7"/>
<circle cx="79.2" cy="389.7" r="1.7"/>
<circle cx="74.9" cy="394.6" r="1.7"/>
<circle cx="82.3" cy="397.2" r="1.7"/>
<circle cx="93.8" cy="393.1" r="1.7"/>
<circle cx="103.8" cy="386.9" r="1.7"/>
<circle cx="89.7" cy="402.3" r="1.7"/>
<circle cx="65.7" cy="406.9" r="1.7"/>
<circle cx="71.2" cy="403.4" r="1.7"/>
<circle cx="74.6" cy="404.6" r="1.7"/>
<circle cx="76.9" cy="409.2" r="1.7"/>
<circle cx="67.7" cy="413.5" r="1.7"/>
<circle cx="71.5" cy="412.6" r="1.7"/>
<circle cx="73.8" cy="412.0" r="1.7"/>
<circle cx="88.5" cy="408.9" r="1.7"/>
<circle cx="92.3" cy="408.9" r="1.7"/>
<circle cx="94.6" cy="406.5" r="1.7"/>
<circle cx="98.5" cy="409.5" r="1.7"/>
<circle cx="96.2" cy="413.1" r="1.7"/>
<circle cx="91.5" cy="415.8" r="1.7"/>
<circle cx="139.0" cy="342.7" r="1.7"/>
<circle cx="145.8" cy="346.7" r="1.7"/>
<circle cx="114.1" cy="348.1" r="1.7"/>
<circle cx="121.5" cy="346.1" r="1.7"/>
<circle cx="141.7" cy="352.1" r="1.7"/>
<circle cx="153.8" cy="352.1" r="1.7"/>
<circle cx="168.6" cy="352.8" r="1.7"/>
<circle cx="120.9" cy="354.1" r="1.7"/>
<circle cx="112.1" cy="357.5" r="1.7"/>
<circle cx="141.0" cy="358.2" r="1.7"/>
<circle cx="148.5" cy="358.2" r="1.7"/>
<circle cx="110.1" cy="361.5" r="1.7"/>
<circle cx="116.2" cy="363.1" r="1.7"/>
<circle cx="127.6" cy="361.3" r="1.7"/>
<circle cx="134.3" cy="363.6" r="1.7"/>
<circle cx="139.0" cy="362.2" r="1.7"/>
<circle cx="143.1" cy="362.9" r="1.7"/>
<circle cx="151.1" cy="362.2" r="1.7"/>
<circle cx="153.8" cy="363.6" r="1.7"/>
<circle cx="124.2" cy="366.2" r="1.7"/>
<circle cx="128.9" cy="365.3" r="1.7"/>
<circle cx="135.7" cy="366.9" r="1.7"/>
<circle cx="146.4" cy="368.3" r="1.7"/>
<circle cx="153.8" cy="366.9" r="1.7"/>
<circle cx="159.2" cy="368.9" r="1.7"/>
<circle cx="126.9" cy="369.6" r="1.7"/>
<circle cx="132.3" cy="370.3" r="1.7"/>
<circle cx="139.0" cy="371.2" r="1.7"/>
<circle cx="113.5" cy="373.4" r="1.7"/>
<circle cx="118.2" cy="373.9" r="1.7"/>
<circle cx="128.3" cy="373.0" r="1.7"/>
<circle cx="155.2" cy="372.3" r="1.7"/>
<circle cx="123.6" cy="377.7" r="1.7"/>
<circle cx="126.9" cy="378.0" r="1.7"/>
<circle cx="136.3" cy="379.0" r="1.7"/>
<circle cx="155.2" cy="377.7" r="1.7"/>
<circle cx="140.4" cy="381.0" r="1.7"/>
<circle cx="144.4" cy="380.4" r="1.7"/>
<circle cx="125.6" cy="380.4" r="1.7"/>
<circle cx="149.8" cy="382.4" r="1.7"/>
<circle cx="153.8" cy="382.8" r="1.7"/>
<circle cx="159.2" cy="381.7" r="1.7"/>
<circle cx="104.0" cy="386.4" r="1.7"/>
<circle cx="116.8" cy="385.8" r="1.7"/>
<circle cx="128.3" cy="386.4" r="1.7"/>
<circle cx="132.3" cy="385.5" r="1.7"/>
<circle cx="139.0" cy="384.4" r="1.7"/>
<circle cx="143.1" cy="387.8" r="1.7"/>
<circle cx="151.1" cy="386.4" r="1.7"/>
<circle cx="161.9" cy="387.8" r="1.7"/>
<circle cx="124.2" cy="393.8" r="1.7"/>
<circle cx="133.6" cy="389.1" r="1.7"/>
<circle cx="136.3" cy="391.1" r="1.7"/>
<circle cx="144.4" cy="391.1" r="1.7"/>
<circle cx="153.8" cy="391.8" r="1.7"/>
<circle cx="157.9" cy="393.8" r="1.7"/>
<circle cx="151.1" cy="395.2" r="1.7"/>
<circle cx="182.6" cy="341.3" r="1.7"/>
<circle cx="170.1" cy="352.8" r="1.7"/>
<circle cx="175.9" cy="351.8" r="1.7"/>
<circle cx="182.6" cy="352.8" r="1.7"/>
<circle cx="186.2" cy="349.7" r="1.7"/>
<circle cx="187.6" cy="353.7" r="1.7"/>
<circle cx="177.2" cy="355.9" r="1.7"/>
<circle cx="184.2" cy="358.2" r="1.7"/>
<circle cx="201.7" cy="353.5" r="1.7"/>
<circle cx="175.5" cy="365.3" r="1.7"/>
<circle cx="179.9" cy="365.8" r="1.7"/>
<circle cx="189.3" cy="366.2" r="1.7"/>
<circle cx="170.8" cy="368.5" r="1.7"/>
<circle cx="176.2" cy="373.9" r="1.7"/>
<circle cx="180.2" cy="373.4" r="1.7"/>
<circle cx="171.4" cy="376.3" r="1.7"/>
<circle cx="172.8" cy="379.3" r="1.7"/>
<circle cx="178.6" cy="380.1" r="1.7"/>
<circle cx="169.4" cy="382.0" r="1.7"/>
<circle cx="171.8" cy="383.3" r="1.7"/>
<circle cx="223.3" cy="378.4" r="1.7"/>
<circle cx="162.0" cy="388.2" r="1.7"/>
<circle cx="170.8" cy="389.5" r="1.7"/>
<circle cx="175.1" cy="388.2" r="1.7"/>
<circle cx="175.5" cy="390.9" r="1.7"/>
<circle cx="185.6" cy="386.8" r="1.7"/>
<circle cx="184.9" cy="391.8" r="1.7"/>
<circle cx="193.0" cy="390.5" r="1.7"/>
<circle cx="169.2" cy="394.5" r="1.7"/>
<circle cx="175.9" cy="394.9" r="1.7"/>
<circle cx="173.5" cy="397.2" r="1.7"/>
<circle cx="177.5" cy="399.2" r="1.7"/>
<circle cx="189.1" cy="365.3" r="1.7"/>
<circle cx="192.7" cy="390.0" r="1.7"/>
<circle cx="188.3" cy="408.0" r="1.7"/>
<circle cx="93.8" cy="407.1" r="1.7"/>
<circle cx="91.9" cy="409.0" r="1.7"/>
<circle cx="98.3" cy="409.7" r="1.7"/>
<circle cx="95.7" cy="412.9" r="1.7"/>
<circle cx="91.3" cy="415.4" r="1.7"/>
<circle cx="114.9" cy="407.8" r="1.7"/>
<circle cx="124.5" cy="409.0" r="1.7"/>
<circle cx="118.1" cy="414.2" r="1.7"/>
<circle cx="128.3" cy="412.9" r="1.7"/>
<circle cx="114.3" cy="422.5" r="1.7"/>
<circle cx="123.2" cy="421.8" r="1.7"/>
<circle cx="125.8" cy="422.8" r="1.7"/>
<circle cx="128.3" cy="428.2" r="1.7"/>
<circle cx="120.0" cy="431.8" r="1.7"/>
<circle cx="139.8" cy="435.6" r="1.7"/>
<circle cx="142.4" cy="420.5" r="1.7"/>
<circle cx="143.0" cy="428.2" r="1.7"/>
<circle cx="146.2" cy="414.2" r="1.7"/>
<circle cx="123.2" cy="398.2" r="1.7"/>
<circle cx="132.1" cy="400.1" r="1.7"/>
</g>
<g fill="#b9b9b9">
<circle cx="126.5" cy="261.9" r="1.75"/>
<circle cx="113.6" cy="269.0" r="1.75"/>
<circle cx="120.5" cy="271.6" r="1.75"/>
<circle cx="117.9" cy="281.1" r="1.75"/>
<circle cx="106.3" cy="285.0" r="1.75"/>
<circle cx="133.4" cy="284.4" r="1.75"/>
<circle cx="148.4" cy="281.5" r="1.75"/>
<circle cx="109.2" cy="298.4" r="1.75"/>
<circle cx="126.5" cy="297.1" r="1.75"/>
<circle cx="142.7" cy="299.6" r="1.75"/>
<circle cx="183.3" cy="261.2" r="1.75"/>
<circle cx="186.9" cy="273.6" r="1.75"/>
<circle cx="181.2" cy="284.8" r="1.75"/>
<circle cx="128.7" cy="303.0" r="1.75"/>
<circle cx="148.9" cy="304.4" r="1.75"/>
<circle cx="111.6" cy="307.4" r="1.75"/>
<circle cx="136.6" cy="307.7" r="1.75"/>
<circle cx="117.5" cy="312.5" r="1.75"/>
<circle cx="152.5" cy="312.7" r="1.75"/>
<circle cx="143.4" cy="315.9" r="1.75"/>
<circle cx="134.6" cy="321.9" r="1.75"/>
<circle cx="141.9" cy="320.7" r="1.75"/>
<circle cx="148.3" cy="322.7" r="1.75"/>
<circle cx="111.2" cy="326.6" r="1.75"/>
<circle cx="113.2" cy="326.8" r="1.75"/>
<circle cx="125.7" cy="331.0" r="1.75"/>
<circle cx="130.7" cy="329.9" r="1.75"/>
<circle cx="110.6" cy="336.9" r="1.75"/>
<circle cx="115.6" cy="335.3" r="1.75"/>
<circle cx="121.8" cy="336.0" r="1.75"/>
<circle cx="142.2" cy="335.8" r="1.75"/>
<circle cx="146.7" cy="336.5" r="1.75"/>
<circle cx="180.0" cy="298.8" r="1.75"/>
<circle cx="183.3" cy="298.5" r="1.75"/>
<circle cx="198.6" cy="298.5" r="1.75"/>
<circle cx="180.4" cy="309.5" r="1.75"/>
<circle cx="182.1" cy="311.5" r="1.75"/>
<circle cx="176.2" cy="316.5" r="1.75"/>
<circle cx="178.6" cy="318.5" r="1.75"/>
<circle cx="184.5" cy="321.3" r="1.75"/>
<circle cx="186.6" cy="320.1" r="1.75"/>
<circle cx="188.6" cy="319.5" r="1.75"/>
<circle cx="193.9" cy="323.3" r="1.75"/>
<circle cx="181.9" cy="326.0" r="1.75"/>
<circle cx="183.3" cy="330.1" r="1.75"/>
<circle cx="187.1" cy="329.5" r="1.75"/>
<circle cx="190.4" cy="328.9" r="1.75"/>
<circle cx="192.5" cy="328.3" r="1.75"/>
<circle cx="173.6" cy="331.5" r="1.75"/>
<circle cx="222.1" cy="327.7" r="1.75"/>
<circle cx="225.7" cy="336.5" r="1.75"/>
</g>
<polyline points="26.6,195.3 26.6,461.5 299,461.5" fill="none" stroke="#222" stroke-width="1.1"/>
<line x1="23.60" y1="449.40" x2="26.60" y2="449.40" stroke="#222" stroke-width="1"/>
<text x="21.0" y="452.3" font-size="8.3" fill="#2b2b2b" font-weight="normal" text-anchor="end">0</text>
<line x1="23.60" y1="399.14" x2="26.60" y2="399.14" stroke="#222" stroke-width="1"/>
<text x="21.0" y="402.0" font-size="8.3" fill="#2b2b2b" font-weight="normal" text-anchor="end">1</text>
<line x1="23.60" y1="348.88" x2="26.60" y2="348.88" stroke="#222" stroke-width="1"/>
<text x="21.0" y="351.8" font-size="8.3" fill="#2b2b2b" font-weight="normal" text-anchor="end">2</text>
<line x1="23.60" y1="298.62" x2="26.60" y2="298.62" stroke="#222" stroke-width="1"/>
<text x="21.0" y="301.5" font-size="8.3" fill="#2b2b2b" font-weight="normal" text-anchor="end">3</text>
<line x1="23.60" y1="248.36" x2="26.60" y2="248.36" stroke="#222" stroke-width="1"/>
<text x="21.0" y="251.3" font-size="8.3" fill="#2b2b2b" font-weight="normal" text-anchor="end">4</text>
<line x1="23.60" y1="198.10" x2="26.60" y2="198.10" stroke="#222" stroke-width="1"/>
<text x="21.0" y="201.0" font-size="8.3" fill="#2b2b2b" font-weight="normal" text-anchor="end">5</text>
<line x1="33.40" y1="461.50" x2="33.40" y2="464.30" stroke="#222" stroke-width="1"/>
<text x="33.4" y="474.9" font-size="8.3" fill="#2b2b2b" font-weight="normal" text-anchor="middle" textLength="14.4" lengthAdjust="spacingAndGlyphs">−30</text>
<line x1="77.60" y1="461.50" x2="77.60" y2="464.30" stroke="#222" stroke-width="1"/>
<text x="77.6" y="474.9" font-size="8.3" fill="#2b2b2b" font-weight="normal" text-anchor="middle" textLength="14.4" lengthAdjust="spacingAndGlyphs">−20</text>
<line x1="121.80" y1="461.50" x2="121.80" y2="464.30" stroke="#222" stroke-width="1"/>
<text x="121.8" y="474.9" font-size="8.3" fill="#2b2b2b" font-weight="normal" text-anchor="middle" textLength="14.4" lengthAdjust="spacingAndGlyphs">−10</text>
<line x1="166.00" y1="461.50" x2="166.00" y2="464.30" stroke="#222" stroke-width="1"/>
<text x="166.0" y="474.9" font-size="8.3" fill="#2b2b2b" font-weight="normal" text-anchor="middle">0</text>
<line x1="210.20" y1="461.50" x2="210.20" y2="464.30" stroke="#222" stroke-width="1"/>
<text x="210.2" y="474.9" font-size="8.3" fill="#2b2b2b" font-weight="normal" text-anchor="middle">10</text>
<line x1="254.40" y1="461.50" x2="254.40" y2="464.30" stroke="#222" stroke-width="1"/>
<text x="254.4" y="474.9" font-size="8.3" fill="#2b2b2b" font-weight="normal" text-anchor="middle">20</text>
<line x1="298.60" y1="461.50" x2="298.60" y2="464.30" stroke="#222" stroke-width="1"/>
<text x="298.6" y="474.9" font-size="8.3" fill="#2b2b2b" font-weight="normal" text-anchor="middle">30</text>
<text x="164.3" y="488.8" font-size="10.0" fill="#2b2b2b" font-weight="normal" text-anchor="middle" textLength="112.5" lengthAdjust="spacingAndGlyphs">Differential drug sensitivity score</text>
<text transform="translate(10.2,328.2) rotate(-90)" font-size="9.0" fill="#2b2b2b" text-anchor="middle" textLength="55.5" lengthAdjust="spacingAndGlyphs">−log10(<tspan font-style="italic">P</tspan> value)</text>
<line x1="82.10" y1="337.50" x2="91.60" y2="334.30" stroke="#222" stroke-width="0.8"/>
<circle cx="44.8" cy="278.7" r="4.3" fill="#0e4a8a"/>
<circle cx="92.9" cy="297.7" r="4.3" fill="#0e4a8a"/>
<circle cx="63.8" cy="310.8" r="4.3" fill="#0e4a8a"/>
<circle cx="54.8" cy="323.3" r="4.3" fill="#0e4a8a"/>
<circle cx="79.6" cy="330.1" r="4.3" fill="#0e4a8a"/>
<circle cx="93.3" cy="331.3" r="4.3" fill="#0e4a8a"/>
<circle cx="97.3" cy="330.0" r="4.3" fill="#0e4a8a"/>
<circle cx="101.1" cy="328.0" r="4.3" fill="#0e4a8a"/>
<circle cx="138.8" cy="407.9" r="4.3" fill="#0e4a8a"/>
<circle cx="235.4" cy="204.9" r="4.3" fill="#c8102e"/>
<circle cx="286.8" cy="252.0" r="4.3" fill="#c8102e"/>
<circle cx="256.0" cy="285.4" r="4.3" fill="#c8102e"/>
<circle cx="234.0" cy="301.9" r="4.3" fill="#c8102e"/>
<circle cx="245.6" cy="309.6" r="4.3" fill="#c8102e"/>
<text x="36.0" y="273.0" font-size="7.6" fill="#2b2b2b" font-weight="normal" text-anchor="start" textLength="38.0" lengthAdjust="spacingAndGlyphs">Venetoclax</text>
<text x="61.5" y="292.8" font-size="7.6" fill="#2b2b2b" font-weight="normal" text-anchor="start" textLength="34.3" lengthAdjust="spacingAndGlyphs">BGB−283</text>
<text x="42.3" y="306.1" font-size="7.6" fill="#2b2b2b" font-weight="normal" text-anchor="start" textLength="39.4" lengthAdjust="spacingAndGlyphs">Bexarotene</text>
<text x="29.8" y="320.1" font-size="7.6" fill="#2b2b2b" font-weight="normal" text-anchor="start" textLength="37.2" lengthAdjust="spacingAndGlyphs">Idasanutlin</text>
<text x="83.7" y="323.0" font-size="7.6" fill="#2b2b2b" font-weight="normal" text-anchor="start" textLength="35.9" lengthAdjust="spacingAndGlyphs">Navitoclax</text>
<text x="32.7" y="334.9" font-size="7.6" fill="#2b2b2b" font-weight="normal" text-anchor="start" textLength="36.1" lengthAdjust="spacingAndGlyphs">AMG−232</text>
<text x="29.8" y="344.7" font-size="7.6" fill="#2b2b2b" font-weight="normal" text-anchor="start" textLength="40.0" lengthAdjust="spacingAndGlyphs">SAR405838</text>
<text x="88.0" y="344.5" font-size="7.6" fill="#2b2b2b" font-weight="normal" text-anchor="start" textLength="37.4" lengthAdjust="spacingAndGlyphs">Danusertib</text>
<text x="115.9" y="402.2" font-size="7.6" fill="#2b2b2b" font-weight="normal" text-anchor="start" textLength="31.2" lengthAdjust="spacingAndGlyphs">S−63845</text>
<text x="242.0" y="202.2" font-size="7.6" fill="#2b2b2b" font-weight="normal" text-anchor="start" textLength="36.2" lengthAdjust="spacingAndGlyphs">Plicamycin</text>
<text x="239.2" y="255.8" font-size="7.6" fill="#2b2b2b" font-weight="normal" text-anchor="start" textLength="40.0" lengthAdjust="spacingAndGlyphs">A−1155463</text>
<text x="238.5" y="280.3" font-size="7.6" fill="#2b2b2b" font-weight="normal" text-anchor="start" textLength="40.3" lengthAdjust="spacingAndGlyphs">A−1331852</text>
<text x="207.0" y="296.3" font-size="7.6" fill="#2b2b2b" font-weight="normal" text-anchor="start" textLength="34.3" lengthAdjust="spacingAndGlyphs">Baricitinib</text>
<text x="230.8" y="319.9" font-size="7.6" fill="#2b2b2b" font-weight="normal" text-anchor="start" textLength="35.9" lengthAdjust="spacingAndGlyphs">Ruxolitinib</text>
<text x="309.0" y="141.6" font-size="12.0" fill="#111" font-weight="bold" text-anchor="start" textLength="8.2" lengthAdjust="spacingAndGlyphs">C</text>
<line x1="352.60" y1="134.30" x2="363.50" y2="134.30" stroke="#b5123a" stroke-width="1.3" stroke-opacity="0.7"/>
<text x="367.6" y="137.0" font-size="8.5" fill="#2b2b2b" font-weight="normal" text-anchor="start" textLength="53.0" lengthAdjust="spacingAndGlyphs">Erythroid AML</text>
<line x1="352.60" y1="146.30" x2="363.50" y2="146.30" stroke="#f0a02c" stroke-width="1.3" stroke-opacity="0.7"/>
<text x="367.6" y="149.0" font-size="8.5" fill="#2b2b2b" font-weight="normal" text-anchor="start" textLength="84.0" lengthAdjust="spacingAndGlyphs">Megakaryoblastic AML</text>
<line x1="439.40" y1="134.60" x2="449.20" y2="134.60" stroke="#d6d6da" stroke-width="1.7"/>
<text x="453.2" y="137.3" font-size="8.5" fill="#2b2b2b" font-weight="normal" text-anchor="start" textLength="41.3" lengthAdjust="spacingAndGlyphs">Other AML</text>
<line x1="351.8" y1="209.80" x2="493.4" y2="209.80" stroke="#333" stroke-width="0.95" stroke-dasharray="3.4,2.4"/>
<polyline points="351.8,156.5 351.8,248.1 493.9,248.1" fill="none" stroke="#222" stroke-width="1.1"/>
<line x1="348.80" y1="247.80" x2="351.80" y2="247.80" stroke="#222" stroke-width="1"/>
<text x="346.2" y="250.7" font-size="8.3" fill="#2b2b2b" font-weight="normal" text-anchor="end">0</text>
<line x1="348.80" y1="228.80" x2="351.80" y2="228.80" stroke="#222" stroke-width="1"/>
<text x="346.2" y="231.7" font-size="8.3" fill="#2b2b2b" font-weight="normal" text-anchor="end">25</text>
<line x1="348.80" y1="209.80" x2="351.80" y2="209.80" stroke="#222" stroke-width="1"/>
<text x="346.2" y="212.7" font-size="8.3" fill="#2b2b2b" font-weight="normal" text-anchor="end">50</text>
<line x1="348.80" y1="190.80" x2="351.80" y2="190.80" stroke="#222" stroke-width="1"/>
<text x="346.2" y="193.7" font-size="8.3" fill="#2b2b2b" font-weight="normal" text-anchor="end">75</text>
<line x1="348.80" y1="171.80" x2="351.80" y2="171.80" stroke="#222" stroke-width="1"/>
<text x="346.2" y="174.7" font-size="8.3" fill="#2b2b2b" font-weight="normal" text-anchor="end">100</text>
<line x1="351.80" y1="248.10" x2="351.80" y2="250.30" stroke="#222" stroke-width="1"/>
<text x="351.8" y="260.4" font-size="8.3" fill="#2b2b2b" font-weight="normal" text-anchor="middle">0.1</text>
<line x1="387.20" y1="248.10" x2="387.20" y2="250.30" stroke="#222" stroke-width="1"/>
<text x="387.2" y="260.4" font-size="8.3" fill="#2b2b2b" font-weight="normal" text-anchor="middle">1</text>
<line x1="422.60" y1="248.10" x2="422.60" y2="250.30" stroke="#222" stroke-width="1"/>
<text x="422.6" y="260.4" font-size="8.3" fill="#2b2b2b" font-weight="normal" text-anchor="middle">10</text>
<line x1="458.00" y1="248.10" x2="458.00" y2="250.30" stroke="#222" stroke-width="1"/>
<text x="458.0" y="260.4" font-size="8.3" fill="#2b2b2b" font-weight="normal" text-anchor="middle">100</text>
<line x1="493.40" y1="248.10" x2="493.40" y2="250.30" stroke="#222" stroke-width="1"/>
<text x="493.4" y="260.4" font-size="8.3" fill="#2b2b2b" font-weight="normal" text-anchor="middle">1000</text>
<text x="383.8" y="164.0" font-size="8.6" fill="#2b2b2b" font-weight="normal" text-anchor="start" textLength="80.4" lengthAdjust="spacingAndGlyphs">A-1331852 (BCL-XL)</text>
<text transform="translate(326.0,202.0) rotate(-90)" font-size="9.7" fill="#2b2b2b" text-anchor="middle" textLength="34.5" lengthAdjust="spacingAndGlyphs">% viability</text>
<polyline points="351.80,168.76 353.39,168.76 354.98,168.76 356.57,168.76 358.16,168.76 359.76,168.76 361.35,168.76 362.94,168.75 364.53,168.75 366.12,168.75 367.71,168.75 369.30,168.75 370.89,168.75 372.48,168.74 374.07,168.74 375.67,168.74 377.26,168.74 378.85,168.73 380.44,168.73 382.03,168.73 383.62,168.72 385.21,168.72 386.80,168.72 388.39,168.71 389.98,168.71 391.58,168.70 393.17,168.70 394.76,168.69 396.35,168.69 397.94,168.69 399.53,168.68 401.12,168.68 402.71,168.67 404.30,168.67 405.89,168.66 407.49,168.66 409.08,168.65 410.67,168.65 412.26,168.64 413.85,168.64 415.44,168.63 417.03,168.63 418.62,168.62 420.21,168.62 421.80,168.61 423.40,168.61 424.99,168.60 426.58,168.59 428.17,168.59 429.76,168.58 431.35,168.57 432.94,168.56 434.53,168.55 436.12,168.54 437.71,168.53 439.31,168.52 440.90,168.51 442.49,168.50 444.08,168.49 445.67,168.48 447.26,168.46 448.85,168.45 450.44,168.44 452.03,168.43 453.62,168.42 455.22,168.40 456.81,168.39 458.40,168.38 459.99,168.36 461.58,168.35 463.17,168.34 464.76,168.32 466.35,168.31 467.94,168.29 469.53,168.28 471.13,168.26 472.72,168.24 474.31,168.23 475.90,168.21 477.49,168.19 479.08,168.17 480.67,168.16 482.26,168.14 483.85,168.12 485.44,168.10 487.04,168.08 488.63,168.06 490.22,168.04 491.81,168.02 493.40,168.00" fill="none" stroke="#c2c2c6" stroke-width="1.1" stroke-opacity="1.0" stroke-linejoin="round"/>
<polyline points="351.80,171.04 353.39,171.04 354.98,171.04 356.57,171.04 358.16,171.04 359.76,171.04 361.35,171.04 362.94,171.04 364.53,171.04 366.12,171.04 367.71,171.04 369.30,171.04 370.89,171.04 372.48,171.04 374.07,171.04 375.67,171.04 377.26,171.04 378.85,171.04 380.44,171.04 382.03,171.04 383.62,171.04 385.21,171.04 386.80,171.04 388.39,171.04 389.98,171.04 391.58,171.04 393.17,171.04 394.76,171.04 396.35,171.04 397.94,171.04 399.53,171.04 401.12,171.04 402.71,171.04 404.30,171.04 405.89,171.04 407.49,171.04 409.08,171.04 410.67,171.04 412.26,171.04 413.85,171.04 415.44,171.04 417.03,171.04 418.62,171.04 420.21,171.04 421.80,171.04 423.40,171.04 424.99,171.04 426.58,171.03 428.17,171.02 429.76,171.01 431.35,171.00 432.94,170.98 434.53,170.97 436.12,170.95 437.71,170.93 439.31,170.91 440.90,170.89 442.49,170.87 444.08,170.85 445.67,170.82 447.26,170.80 448.85,170.78 450.44,170.75 452.03,170.73 453.62,170.71 455.22,170.69 456.81,170.67 458.40,170.66 459.99,170.64 461.58,170.62 463.17,170.60 464.76,170.59 466.35,170.57 467.94,170.55 469.53,170.54 471.13,170.52 472.72,170.50 474.31,170.48 475.90,170.47 477.49,170.45 479.08,170.43 480.67,170.42 482.26,170.40 483.85,170.38 485.44,170.37 487.04,170.35 488.63,170.33 490.22,170.31 491.81,170.30 493.40,170.28" fill="none" stroke="#c2c2c6" stroke-width="1.1" stroke-opacity="1.0" stroke-linejoin="round"/>
<polyline points="351.80,173.32 353.39,173.32 354.98,173.33 356.57,173.33 358.16,173.33 359.76,173.34 361.35,173.34 362.94,173.35 364.53,173.35 366.12,173.36 367.71,173.37 369.30,173.37 370.89,173.38 372.48,173.39 374.07,173.39 375.67,173.40 377.26,173.41 378.85,173.42 380.44,173.42 382.03,173.43 383.62,173.44 385.21,173.45 386.80,173.46 388.39,173.47 389.98,173.48 391.58,173.49 393.17,173.50 394.76,173.51 396.35,173.52 397.94,173.53 399.53,173.54 401.12,173.55 402.71,173.56 404.30,173.57 405.89,173.58 407.49,173.59 409.08,173.60 410.67,173.61 412.26,173.62 413.85,173.64 415.44,173.65 417.03,173.66 418.62,173.67 420.21,173.68 421.80,173.69 423.40,173.71 424.99,173.72 426.58,173.73 428.17,173.75 429.76,173.76 431.35,173.78 432.94,173.80 434.53,173.81 436.12,173.83 437.71,173.85 439.31,173.87 440.90,173.89 442.49,173.91 444.08,173.93 445.67,173.94 447.26,173.96 448.85,173.98 450.44,174.00 452.03,174.02 453.62,174.04 455.22,174.05 456.81,174.07 458.40,174.08 459.99,174.10 461.58,174.11 463.17,174.13 464.76,174.14 466.35,174.16 467.94,174.17 469.53,174.19 471.13,174.20 472.72,174.22 474.31,174.23 475.90,174.24 477.49,174.26 479.08,174.27 480.67,174.28 482.26,174.30 483.85,174.31 485.44,174.32 487.04,174.33 488.63,174.35 490.22,174.36 491.81,174.37 493.40,174.38" fill="none" stroke="#c2c2c6" stroke-width="1.1" stroke-opacity="1.0" stroke-linejoin="round"/>
<polyline points="351.80,175.22 353.39,175.22 354.98,175.22 356.57,175.22 358.16,175.22 359.76,175.23 361.35,175.23 362.94,175.23 364.53,175.24 366.12,175.24 367.71,175.24 369.30,175.25 370.89,175.25 372.48,175.26 374.07,175.26 375.67,175.27 377.26,175.28 378.85,175.29 380.44,175.29 382.03,175.30 383.62,175.31 385.21,175.32 386.80,175.33 388.39,175.34 389.98,175.35 391.58,175.35 393.17,175.37 394.76,175.38 396.35,175.39 397.94,175.40 399.53,175.41 401.12,175.42 402.71,175.43 404.30,175.44 405.89,175.46 407.49,175.47 409.08,175.48 410.67,175.50 412.26,175.51 413.85,175.52 415.44,175.54 417.03,175.55 418.62,175.56 420.21,175.58 421.80,175.59 423.40,175.61 424.99,175.62 426.58,175.64 428.17,175.66 429.76,175.69 431.35,175.71 432.94,175.74 434.53,175.77 436.12,175.80 437.71,175.83 439.31,175.86 440.90,175.90 442.49,175.93 444.08,175.97 445.67,176.01 447.26,176.05 448.85,176.09 450.44,176.14 452.03,176.18 453.62,176.23 455.22,176.28 456.81,176.32 458.40,176.37 459.99,176.43 461.58,176.48 463.17,176.54 464.76,176.61 466.35,176.68 467.94,176.75 469.53,176.83 471.13,176.91 472.72,177.00 474.31,177.08 475.90,177.17 477.49,177.27 479.08,177.36 480.67,177.46 482.26,177.56 483.85,177.67 485.44,177.78 487.04,177.88 488.63,177.99 490.22,178.11 491.81,178.22 493.40,178.34" fill="none" stroke="#c2c2c6" stroke-width="1.1" stroke-opacity="1.0" stroke-linejoin="round"/>
<polyline points="351.80,169.52 353.39,169.52 354.98,169.52 356.57,169.52 358.16,169.53 359.76,169.53 361.35,169.53 362.94,169.54 364.53,169.55 366.12,169.55 367.71,169.56 369.30,169.57 370.89,169.58 372.48,169.59 374.07,169.60 375.67,169.61 377.26,169.62 378.85,169.63 380.44,169.65 382.03,169.66 383.62,169.68 385.21,169.69 386.80,169.71 388.39,169.73 389.98,169.75 391.58,169.77 393.17,169.79 394.76,169.81 396.35,169.83 397.94,169.85 399.53,169.87 401.12,169.89 402.71,169.92 404.30,169.94 405.89,169.97 407.49,170.00 409.08,170.02 410.67,170.05 412.26,170.08 413.85,170.11 415.44,170.14 417.03,170.17 418.62,170.20 420.21,170.23 421.80,170.26 423.40,170.30 424.99,170.34 426.58,170.40 428.17,170.47 429.76,170.56 431.35,170.65 432.94,170.75 434.53,170.87 436.12,170.99 437.71,171.12 439.31,171.26 440.90,171.41 442.49,171.56 444.08,171.72 445.67,171.89 447.26,172.06 448.85,172.24 450.44,172.42 452.03,172.60 453.62,172.79 455.22,172.98 456.81,173.17 458.40,173.37 459.99,173.58 461.58,173.80 463.17,174.04 464.76,174.30 466.35,174.57 467.94,174.85 469.53,175.15 471.13,175.46 472.72,175.79 474.31,176.12 475.90,176.47 477.49,176.83 479.08,177.20 480.67,177.58 482.26,177.97 483.85,178.37 485.44,178.78 487.04,179.19 488.63,179.61 490.22,180.04 491.81,180.48 493.40,180.92" fill="none" stroke="#c2c2c6" stroke-width="1.1" stroke-opacity="1.0" stroke-linejoin="round"/>
<polyline points="351.80,171.80 353.39,171.80 354.98,171.80 356.57,171.80 358.16,171.81 359.76,171.81 361.35,171.81 362.94,171.82 364.53,171.82 366.12,171.83 367.71,171.84 369.30,171.85 370.89,171.85 372.48,171.86 374.07,171.87 375.67,171.88 377.26,171.90 378.85,171.91 380.44,171.92 382.03,171.94 383.62,171.95 385.21,171.97 386.80,171.98 388.39,172.00 389.98,172.02 391.58,172.04 393.17,172.06 394.76,172.08 396.35,172.10 397.94,172.12 399.53,172.14 401.12,172.16 402.71,172.19 404.30,172.21 405.89,172.24 407.49,172.27 409.08,172.29 410.67,172.32 412.26,172.35 413.85,172.38 415.44,172.41 417.03,172.44 418.62,172.48 420.21,172.51 421.80,172.54 423.40,172.58 424.99,172.64 426.58,172.72 428.17,172.83 429.76,172.96 431.35,173.10 432.94,173.26 434.53,173.44 436.12,173.64 437.71,173.85 439.31,174.07 440.90,174.30 442.49,174.54 444.08,174.79 445.67,175.05 447.26,175.31 448.85,175.58 450.44,175.85 452.03,176.12 453.62,176.39 455.22,176.66 456.81,176.92 458.40,177.19 459.99,177.45 461.58,177.73 463.17,178.02 464.76,178.32 466.35,178.62 467.94,178.94 469.53,179.26 471.13,179.59 472.72,179.94 474.31,180.29 475.90,180.64 477.49,181.01 479.08,181.38 480.67,181.76 482.26,182.15 483.85,182.54 485.44,182.94 487.04,183.34 488.63,183.76 490.22,184.17 491.81,184.60 493.40,185.02" fill="none" stroke="#c2c2c6" stroke-width="1.1" stroke-opacity="1.0" stroke-linejoin="round"/>
<polyline points="351.80,174.08 353.39,174.08 354.98,174.08 356.57,174.08 358.16,174.09 359.76,174.09 361.35,174.09 362.94,174.10 364.53,174.10 366.12,174.11 367.71,174.12 369.30,174.12 370.89,174.13 372.48,174.14 374.07,174.15 375.67,174.16 377.26,174.17 378.85,174.18 380.44,174.20 382.03,174.21 383.62,174.23 385.21,174.24 386.80,174.26 388.39,174.27 389.98,174.29 391.58,174.31 393.17,174.33 394.76,174.35 396.35,174.37 397.94,174.39 399.53,174.42 401.12,174.44 402.71,174.46 404.30,174.49 405.89,174.51 407.49,174.54 409.08,174.57 410.67,174.60 412.26,174.63 413.85,174.66 415.44,174.69 417.03,174.72 418.62,174.75 420.21,174.79 421.80,174.82 423.40,174.86 424.99,174.93 426.58,175.04 428.17,175.17 429.76,175.34 431.35,175.53 432.94,175.74 434.53,175.98 436.12,176.24 437.71,176.52 439.31,176.82 440.90,177.13 442.49,177.46 444.08,177.79 445.67,178.14 447.26,178.49 448.85,178.85 450.44,179.21 452.03,179.58 453.62,179.94 455.22,180.30 456.81,180.66 458.40,181.01 459.99,181.37 461.58,181.74 463.17,182.12 464.76,182.52 466.35,182.93 467.94,183.36 469.53,183.79 471.13,184.24 472.72,184.70 474.31,185.17 475.90,185.65 477.49,186.14 479.08,186.65 480.67,187.16 482.26,187.68 483.85,188.21 485.44,188.75 487.04,189.29 488.63,189.85 490.22,190.41 491.81,190.98 493.40,191.56" fill="none" stroke="#c2c2c6" stroke-width="1.1" stroke-opacity="1.0" stroke-linejoin="round"/>
<polyline points="351.80,170.28 353.39,170.28 354.98,170.28 356.57,170.28 358.16,170.29 359.76,170.29 361.35,170.29 362.94,170.30 364.53,170.31 366.12,170.31 367.71,170.32 369.30,170.33 370.89,170.34 372.48,170.35 374.07,170.36 375.67,170.37 377.26,170.38 378.85,170.39 380.44,170.41 382.03,170.42 383.62,170.44 385.21,170.45 386.80,170.47 388.39,170.49 389.98,170.51 391.58,170.53 393.17,170.55 394.76,170.57 396.35,170.59 397.94,170.61 399.53,170.63 401.12,170.65 402.71,170.68 404.30,170.70 405.89,170.73 407.49,170.76 409.08,170.78 410.67,170.81 412.26,170.84 413.85,170.87 415.44,170.90 417.03,170.93 418.62,170.96 420.21,170.99 421.80,171.02 423.40,171.06 424.99,171.11 426.58,171.18 428.17,171.27 429.76,171.37 431.35,171.49 432.94,171.62 434.53,171.76 436.12,171.90 437.71,172.06 439.31,172.22 440.90,172.39 442.49,172.56 444.08,172.73 445.67,172.90 447.26,173.07 448.85,173.24 450.44,173.41 452.03,173.56 453.62,173.71 455.22,173.86 456.81,173.99 458.40,174.11 459.99,174.23 461.58,174.34 463.17,174.45 464.76,174.57 466.35,174.68 467.94,174.79 469.53,174.90 471.13,175.01 472.72,175.11 474.31,175.22 475.90,175.32 477.49,175.42 479.08,175.52 480.67,175.62 482.26,175.72 483.85,175.82 485.44,175.91 487.04,176.00 488.63,176.10 490.22,176.19 491.81,176.27 493.40,176.36" fill="none" stroke="#c2c2c6" stroke-width="1.1" stroke-opacity="1.0" stroke-linejoin="round"/>
<polyline points="351.80,180.92 353.39,180.95 354.98,180.98 356.57,181.01 358.16,181.05 359.76,181.08 361.35,181.12 362.94,181.16 364.53,181.21 366.12,181.25 367.71,181.30 369.30,181.36 370.89,181.41 372.48,181.47 374.07,181.53 375.67,181.60 377.26,181.67 378.85,181.74 380.44,181.82 382.03,181.90 383.62,181.98 385.21,182.08 386.80,182.17 388.39,182.27 389.98,182.38 391.58,182.49 393.17,182.61 394.76,182.74 396.35,182.87 397.94,183.01 399.53,183.16 401.12,183.32 402.71,183.48 404.30,183.65 405.89,183.83 407.49,184.02 409.08,184.22 410.67,184.42 412.26,184.64 413.85,184.87 415.44,185.10 417.03,185.35 418.62,185.61 420.21,185.88 421.80,186.16 423.40,186.45 424.99,186.75 426.58,187.07 428.17,187.39 429.76,187.73 431.35,188.08 432.94,188.44 434.53,188.81 436.12,189.20 437.71,189.59 439.31,189.99 440.90,190.41 442.49,190.83 444.08,191.27 445.67,191.71 447.26,192.16 448.85,192.62 450.44,193.08 452.03,193.55 453.62,194.03 455.22,194.51 456.81,194.99 458.40,195.48 459.99,195.97 461.58,196.46 463.17,196.95 464.76,197.44 466.35,197.93 467.94,198.42 469.53,198.90 471.13,199.38 472.72,199.85 474.31,200.32 475.90,200.78 477.49,201.23 479.08,201.68 480.67,202.11 482.26,202.54 483.85,202.96 485.44,203.37 487.04,203.76 488.63,204.15 490.22,204.52 491.81,204.89 493.40,205.24" fill="none" stroke="#c2c2c6" stroke-width="1.1" stroke-opacity="1.0" stroke-linejoin="round"/>
<polyline points="351.80,166.78 353.39,167.48 354.98,168.25 356.57,169.09 358.16,170.00 359.76,170.98 361.35,172.04 362.94,173.18 364.53,174.39 366.12,175.69 367.71,177.07 369.30,178.52 370.89,180.06 372.48,181.66 374.07,183.32 375.67,185.05 377.26,186.84 378.85,188.66 380.44,190.53 382.03,192.43 383.62,194.34 385.21,196.27 386.80,198.20 388.39,200.13 389.98,202.04 391.58,203.92 393.17,205.78 394.76,207.60 396.35,209.38 397.94,211.12 399.53,212.80 401.12,214.43 402.71,216.01 404.30,217.52 405.89,218.98 407.49,220.38 409.08,221.72 410.67,223.00 412.26,224.23 413.85,225.39 415.44,226.50 417.03,227.56 418.62,228.56 420.21,229.51 421.80,230.41 423.40,231.26 424.99,232.07 426.58,232.84 428.17,233.56 429.76,234.24 431.35,234.89 432.94,235.50 434.53,236.08 436.12,236.62 437.71,237.13 439.31,237.62 440.90,238.07 442.49,238.50 444.08,238.91 445.67,239.29 447.26,239.65 448.85,239.99 450.44,240.31 452.03,240.61 453.62,240.89 455.22,241.16 456.81,241.41 458.40,241.65 459.99,241.87 461.58,242.08 463.17,242.28 464.76,242.46 466.35,242.64 467.94,242.80 469.53,242.96 471.13,243.10 472.72,243.24 474.31,243.37 475.90,243.49 477.49,243.61 479.08,243.72 480.67,243.82 482.26,243.91 483.85,244.00 485.44,244.09 487.04,244.17 488.63,244.24 490.22,244.31 491.81,244.38 493.40,244.44" fill="none" stroke="#f0a02c" stroke-width="1.05" stroke-opacity="1.0" stroke-linejoin="round"/>
<polyline points="351.80,172.71 353.39,173.43 354.98,174.18 356.57,174.96 358.16,175.76 359.76,176.58 361.35,177.43 362.94,178.29 364.53,179.18 366.12,180.07 367.71,180.98 369.30,181.90 370.89,182.82 372.48,183.75 374.07,184.68 375.67,185.61 377.26,186.54 378.85,187.47 380.44,188.39 382.03,189.31 383.62,190.22 385.21,191.12 386.80,192.01 388.39,192.89 389.98,193.76 391.58,194.62 393.17,195.46 394.76,196.29 396.35,197.11 397.94,197.92 399.53,198.71 401.12,199.48 402.71,200.25 404.30,201.00 405.89,201.73 407.49,202.45 409.08,203.16 410.67,203.85 412.26,204.53 413.85,205.19 415.44,205.85 417.03,206.49 418.62,207.11 420.21,207.72 421.80,208.32 423.40,208.91 424.99,209.48 426.58,210.04 428.17,210.60 429.76,211.13 431.35,211.66 432.94,212.18 434.53,212.68 436.12,213.17 437.71,213.66 439.31,214.13 440.90,214.59 442.49,215.04 444.08,215.48 445.67,215.92 447.26,216.34 448.85,216.75 450.44,217.16 452.03,217.56 453.62,217.94 455.22,218.32 456.81,218.69 458.40,219.05 459.99,219.41 461.58,219.76 463.17,220.09 464.76,220.43 466.35,220.75 467.94,221.07 469.53,221.38 471.13,221.68 472.72,221.98 474.31,222.27 475.90,222.55 477.49,222.83 479.08,223.10 480.67,223.37 482.26,223.63 483.85,223.88 485.44,224.13 487.04,224.37 488.63,224.61 490.22,224.84 491.81,225.07 493.40,225.29" fill="none" stroke="#f0a02c" stroke-width="1.05" stroke-opacity="1.0" stroke-linejoin="round"/>
<polyline points="351.80,182.05 353.39,184.32 354.98,186.54 356.57,188.70 358.16,190.81 359.76,192.85 361.35,194.83 362.94,196.76 364.53,198.62 366.12,200.42 367.71,202.16 369.30,203.84 370.89,205.47 372.48,207.04 374.07,208.55 375.67,210.01 377.26,211.42 378.85,212.78 380.44,214.09 382.03,215.36 383.62,216.58 385.21,217.75 386.80,218.88 388.39,219.98 389.98,221.03 391.58,222.04 393.17,223.02 394.76,223.96 396.35,224.87 397.94,225.75 399.53,226.59 401.12,227.40 402.71,228.19 404.30,228.94 405.89,229.67 407.49,230.37 409.08,231.05 410.67,231.70 412.26,232.33 413.85,232.93 415.44,233.52 417.03,234.08 418.62,234.62 420.21,235.14 421.80,235.64 423.40,236.13 424.99,236.59 426.58,237.04 428.17,237.48 429.76,237.90 431.35,238.30 432.94,238.69 434.53,239.06 436.12,239.42 437.71,239.77 439.31,240.10 440.90,240.42 442.49,240.73 444.08,241.03 445.67,241.32 447.26,241.60 448.85,241.87 450.44,242.13 452.03,242.38 453.62,242.62 455.22,242.85 456.81,243.07 458.40,243.28 459.99,243.49 461.58,243.69 463.17,243.88 464.76,244.07 466.35,244.25 467.94,244.42 469.53,244.58 471.13,244.74 472.72,244.90 474.31,245.04 475.90,245.19 477.49,245.32 479.08,245.46 480.67,245.59 482.26,245.71 483.85,245.83 485.44,245.94 487.04,246.05 488.63,246.16 490.22,246.26 491.81,246.36 493.40,246.45" fill="none" stroke="#b5123a" stroke-width="1.05" stroke-opacity="1.0" stroke-linejoin="round"/>
<polyline points="351.80,174.46 353.39,175.32 354.98,176.20 356.57,177.10 358.16,178.01 359.76,178.95 361.35,179.90 362.94,180.87 364.53,181.86 366.12,182.87 367.71,183.90 369.30,184.94 370.89,186.00 372.48,187.08 374.07,188.17 375.67,189.28 377.26,190.40 378.85,191.53 380.44,192.67 382.03,193.83 383.62,195.00 385.21,196.18 386.80,197.36 388.39,198.55 389.98,199.75 391.58,200.95 393.17,202.16 394.76,203.36 396.35,204.57 397.94,205.78 399.53,206.98 401.12,208.18 402.71,209.37 404.30,210.56 405.89,211.74 407.49,212.91 409.08,214.06 410.67,215.20 412.26,216.33 413.85,217.44 415.44,218.53 417.03,219.61 418.62,220.66 420.21,221.69 421.80,222.69 423.40,223.68 424.99,224.63 426.58,225.56 428.17,226.47 429.76,227.34 431.35,228.18 432.94,229.00 434.53,229.79 436.12,230.54 437.71,231.27 439.31,231.96 440.90,232.63 442.49,233.26 444.08,233.86 445.67,234.43 447.26,234.98 448.85,235.49 450.44,235.97 452.03,236.43 453.62,236.86 455.22,237.26 456.81,237.64 458.40,237.99 459.99,238.32 461.58,238.62 463.17,238.91 464.76,239.17 466.35,239.41 467.94,239.63 469.53,239.84 471.13,240.03 472.72,240.20 474.31,240.36 475.90,240.50 477.49,240.63 479.08,240.75 480.67,240.86 482.26,240.95 483.85,241.04 485.44,241.12 487.04,241.19 488.63,241.26 490.22,241.31 491.81,241.36 493.40,241.41" fill="none" stroke="#b5123a" stroke-width="1.05" stroke-opacity="1.0" stroke-linejoin="round"/>
<polyline points="351.80,174.44 353.39,174.84 354.98,175.26 356.57,175.69 358.16,176.13 359.76,176.59 361.35,177.06 362.94,177.55 364.53,178.05 366.12,178.57 367.71,179.10 369.30,179.65 370.89,180.21 372.48,180.80 374.07,181.40 375.67,182.01 377.26,182.65 378.85,183.30 380.44,183.97 382.03,184.65 383.62,185.36 385.21,186.08 386.80,186.82 388.39,187.58 389.98,188.35 391.58,189.15 393.17,189.96 394.76,190.78 396.35,191.63 397.94,192.49 399.53,193.37 401.12,194.27 402.71,195.18 404.30,196.11 405.89,197.05 407.49,198.00 409.08,198.97 410.67,199.95 412.26,200.95 413.85,201.95 415.44,202.97 417.03,203.99 418.62,205.03 420.21,206.07 421.80,207.11 423.40,208.16 424.99,209.22 426.58,210.27 428.17,211.33 429.76,212.39 431.35,213.44 432.94,214.49 434.53,215.54 436.12,216.58 437.71,217.61 439.31,218.63 440.90,219.64 442.49,220.64 444.08,221.62 445.67,222.59 447.26,223.54 448.85,224.48 450.44,225.39 452.03,226.28 453.62,227.15 455.22,228.00 456.81,228.82 458.40,229.62 459.99,230.40 461.58,231.14 463.17,231.86 464.76,232.55 466.35,233.22 467.94,233.85 469.53,234.46 471.13,235.04 472.72,235.59 474.31,236.11 475.90,236.61 477.49,237.08 479.08,237.52 480.67,237.93 482.26,238.32 483.85,238.69 485.44,239.03 487.04,239.35 488.63,239.64 490.22,239.91 491.81,240.17 493.40,240.40" fill="none" stroke="#b5123a" stroke-width="1.05" stroke-opacity="1.0" stroke-linejoin="round"/>
<polyline points="351.80,175.48 353.39,175.63 354.98,175.79 356.57,175.96 358.16,176.14 359.76,176.33 361.35,176.53 362.94,176.75 364.53,176.98 366.12,177.22 367.71,177.48 369.30,177.76 370.89,178.05 372.48,178.37 374.07,178.69 375.67,179.04 377.26,179.41 378.85,179.80 380.44,180.20 382.03,180.63 383.62,181.08 385.21,181.55 386.80,182.05 388.39,182.56 389.98,183.10 391.58,183.66 393.17,184.25 394.76,184.86 396.35,185.49 397.94,186.14 399.53,186.81 401.12,187.50 402.71,188.21 404.30,188.94 405.89,189.69 407.49,190.46 409.08,191.24 410.67,192.03 412.26,192.84 413.85,193.66 415.44,194.49 417.03,195.32 418.62,196.16 420.21,197.01 421.80,197.86 423.40,198.71 424.99,199.56 426.58,200.41 428.17,201.26 429.76,202.10 431.35,202.93 432.94,203.76 434.53,204.58 436.12,205.39 437.71,206.18 439.31,206.97 440.90,207.74 442.49,208.50 444.08,209.25 445.67,209.98 447.26,210.69 448.85,211.39 450.44,212.08 452.03,212.74 453.62,213.39 455.22,214.03 456.81,214.64 458.40,215.24 459.99,215.83 461.58,216.39 463.17,216.94 464.76,217.48 466.35,217.99 467.94,218.50 469.53,218.98 471.13,219.45 472.72,219.91 474.31,220.35 475.90,220.77 477.49,221.19 479.08,221.58 480.67,221.97 482.26,222.34 483.85,222.70 485.44,223.04 487.04,223.38 488.63,223.70 490.22,224.01 491.81,224.31 493.40,224.60" fill="none" stroke="#b5123a" stroke-width="1.05" stroke-opacity="1.0" stroke-linejoin="round"/>
<circle cx="374.81" cy="209.80" r="2.6" fill="none" fill-opacity="0.7" stroke="#b5123a" stroke-width="0.9"/>
<circle cx="396.76" cy="209.80" r="2.6" fill="#f6cf7a" fill-opacity="0.7" stroke="#f0a02c" stroke-width="0.9"/>
<circle cx="403.48" cy="209.80" r="2.6" fill="none" fill-opacity="0.7" stroke="#b5123a" stroke-width="0.9"/>
<circle cx="424.02" cy="209.80" r="2.6" fill="#f6cf7a" fill-opacity="0.7" stroke="#f0a02c" stroke-width="0.9"/>
<circle cx="425.43" cy="209.80" r="2.6" fill="none" fill-opacity="0.7" stroke="#b5123a" stroke-width="0.9"/>
<circle cx="444.90" cy="209.80" r="2.6" fill="none" fill-opacity="0.7" stroke="#b5123a" stroke-width="0.9"/>
<text x="495.7" y="226.0" font-size="4.6" fill="#b5123a" font-weight="normal" text-anchor="start" fill-opacity="0.8">F36P</text>
<text x="495.7" y="231.2" font-size="4.6" fill="#f0a02c" font-weight="normal" text-anchor="start" fill-opacity="0.8">MO7</text>
<text x="495.7" y="237.2" font-size="4.6" fill="#b5123a" font-weight="normal" text-anchor="start" fill-opacity="0.8">OCIM1</text>
<text x="495.7" y="241.8" font-size="4.6" fill="#b5123a" font-weight="normal" text-anchor="start" fill-opacity="0.8">HEL</text>
<text x="495.7" y="245.9" font-size="4.6" fill="#f0a02c" font-weight="normal" text-anchor="start" fill-opacity="0.8">CMK</text>
<text x="495.7" y="250.3" font-size="4.6" fill="#b5123a" font-weight="normal" text-anchor="start" fill-opacity="0.8">TF1</text>
<line x1="351.8" y1="325.70" x2="493.4" y2="325.70" stroke="#333" stroke-width="0.95" stroke-dasharray="3.4,2.4"/>
<polyline points="351.8,272.4 351.8,364.0 493.9,364.0" fill="none" stroke="#222" stroke-width="1.1"/>
<line x1="348.80" y1="363.70" x2="351.80" y2="363.70" stroke="#222" stroke-width="1"/>
<text x="346.2" y="366.6" font-size="8.3" fill="#2b2b2b" font-weight="normal" text-anchor="end">0</text>
<line x1="348.80" y1="344.70" x2="351.80" y2="344.70" stroke="#222" stroke-width="1"/>
<text x="346.2" y="347.6" font-size="8.3" fill="#2b2b2b" font-weight="normal" text-anchor="end">25</text>
<line x1="348.80" y1="325.70" x2="351.80" y2="325.70" stroke="#222" stroke-width="1"/>
<text x="346.2" y="328.6" font-size="8.3" fill="#2b2b2b" font-weight="normal" text-anchor="end">50</text>
<line x1="348.80" y1="306.70" x2="351.80" y2="306.70" stroke="#222" stroke-width="1"/>
<text x="346.2" y="309.6" font-size="8.3" fill="#2b2b2b" font-weight="normal" text-anchor="end">75</text>
<line x1="348.80" y1="287.70" x2="351.80" y2="287.70" stroke="#222" stroke-width="1"/>
<text x="346.2" y="290.6" font-size="8.3" fill="#2b2b2b" font-weight="normal" text-anchor="end">100</text>
<line x1="351.80" y1="364.00" x2="351.80" y2="366.20" stroke="#222" stroke-width="1"/>
<text x="351.8" y="376.9" font-size="8.3" fill="#2b2b2b" font-weight="normal" text-anchor="middle">0.1</text>
<line x1="387.20" y1="364.00" x2="387.20" y2="366.20" stroke="#222" stroke-width="1"/>
<text x="387.2" y="376.9" font-size="8.3" fill="#2b2b2b" font-weight="normal" text-anchor="middle">1</text>
<line x1="422.60" y1="364.00" x2="422.60" y2="366.20" stroke="#222" stroke-width="1"/>
<text x="422.6" y="376.9" font-size="8.3" fill="#2b2b2b" font-weight="normal" text-anchor="middle">10</text>
<line x1="458.00" y1="364.00" x2="458.00" y2="366.20" stroke="#222" stroke-width="1"/>
<text x="458.0" y="376.9" font-size="8.3" fill="#2b2b2b" font-weight="normal" text-anchor="middle">100</text>
<line x1="493.40" y1="364.00" x2="493.40" y2="366.20" stroke="#222" stroke-width="1"/>
<text x="493.4" y="376.9" font-size="8.3" fill="#2b2b2b" font-weight="normal" text-anchor="middle">1000</text>
<text x="386.5" y="279.5" font-size="8.6" fill="#2b2b2b" font-weight="normal" text-anchor="start" textLength="75.1" lengthAdjust="spacingAndGlyphs">Venetoclax (BCL-2)</text>
<text transform="translate(326.0,317.8) rotate(-90)" font-size="9.7" fill="#2b2b2b" text-anchor="middle" textLength="34.5" lengthAdjust="spacingAndGlyphs">% viability</text>
<polyline points="351.80,292.62 353.39,292.73 354.98,292.86 356.57,292.99 358.16,293.14 359.76,293.31 361.35,293.49 362.94,293.69 364.53,293.91 366.12,294.15 367.71,294.41 369.30,294.70 370.89,295.02 372.48,295.36 374.07,295.73 375.67,296.14 377.26,296.59 378.85,297.07 380.44,297.60 382.03,298.17 383.62,298.79 385.21,299.46 386.80,300.19 388.39,300.97 389.98,301.81 391.58,302.71 393.17,303.67 394.76,304.70 396.35,305.79 397.94,306.95 399.53,308.18 401.12,309.47 402.71,310.83 404.30,312.25 405.89,313.74 407.49,315.28 409.08,316.87 410.67,318.51 412.26,320.19 413.85,321.91 415.44,323.65 417.03,325.41 418.62,327.18 420.21,328.96 421.80,330.73 423.40,332.48 424.99,334.21 426.58,335.91 428.17,337.57 429.76,339.18 431.35,340.75 432.94,342.26 434.53,343.71 436.12,345.10 437.71,346.43 439.31,347.68 440.90,348.88 442.49,350.00 444.08,351.06 445.67,352.05 447.26,352.98 448.85,353.85 450.44,354.65 452.03,355.40 453.62,356.10 455.22,356.74 456.81,357.34 458.40,357.88 459.99,358.39 461.58,358.85 463.17,359.28 464.76,359.67 466.35,360.03 467.94,360.36 469.53,360.66 471.13,360.93 472.72,361.18 474.31,361.41 475.90,361.62 477.49,361.81 479.08,361.98 480.67,362.14 482.26,362.28 483.85,362.41 485.44,362.53 487.04,362.64 488.63,362.74 490.22,362.83 491.81,362.91 493.40,362.98" fill="none" stroke="#c7c7cd" stroke-width="0.9" stroke-opacity="1.0" stroke-linejoin="round"/>
<polyline points="351.80,290.30 353.39,290.33 354.98,290.38 356.57,290.43 358.16,290.48 359.76,290.54 361.35,290.60 362.94,290.68 364.53,290.76 366.12,290.86 367.71,290.96 369.30,291.08 370.89,291.21 372.48,291.35 374.07,291.51 375.67,291.69 377.26,291.89 378.85,292.12 380.44,292.36 382.03,292.64 383.62,292.95 385.21,293.29 386.80,293.66 388.39,294.08 389.98,294.54 391.58,295.05 393.17,295.61 394.76,296.23 396.35,296.90 397.94,297.65 399.53,298.45 401.12,299.33 402.71,300.29 404.30,301.32 405.89,302.44 407.49,303.64 409.08,304.92 410.67,306.29 412.26,307.74 413.85,309.27 415.44,310.88 417.03,312.56 418.62,314.30 420.21,316.10 421.80,317.95 423.40,319.83 424.99,321.74 426.58,323.66 428.17,325.58 429.76,327.50 431.35,329.38 432.94,331.24 434.53,333.05 436.12,334.80 437.71,336.49 439.31,338.10 440.90,339.65 442.49,341.11 444.08,342.49 445.67,343.78 447.26,344.99 448.85,346.12 450.44,347.17 452.03,348.13 453.62,349.02 455.22,349.84 456.81,350.59 458.40,351.28 459.99,351.90 461.58,352.47 463.17,352.99 464.76,353.45 466.35,353.88 467.94,354.26 469.53,354.61 471.13,354.92 472.72,355.20 474.31,355.45 475.90,355.68 477.49,355.88 479.08,356.06 480.67,356.23 482.26,356.37 483.85,356.51 485.44,356.62 487.04,356.73 488.63,356.82 490.22,356.91 491.81,356.99 493.40,357.05" fill="none" stroke="#c7c7cd" stroke-width="0.9" stroke-opacity="1.0" stroke-linejoin="round"/>
<polyline points="351.80,290.14 353.39,290.17 354.98,290.19 356.57,290.22 358.16,290.25 359.76,290.28 361.35,290.32 362.94,290.36 364.53,290.41 366.12,290.46 367.71,290.52 369.30,290.59 370.89,290.66 372.48,290.75 374.07,290.84 375.67,290.95 377.26,291.07 378.85,291.21 380.44,291.36 382.03,291.53 383.62,291.72 385.21,291.94 386.80,292.18 388.39,292.44 389.98,292.74 391.58,293.08 393.17,293.45 394.76,293.86 396.35,294.32 397.94,294.83 399.53,295.40 401.12,296.03 402.71,296.72 404.30,297.48 405.89,298.31 407.49,299.22 409.08,300.22 410.67,301.31 412.26,302.48 413.85,303.75 415.44,305.11 417.03,306.57 418.62,308.13 420.21,309.77 421.80,311.50 423.40,313.31 424.99,315.20 426.58,317.15 428.17,319.15 429.76,321.19 431.35,323.26 432.94,325.34 434.53,327.41 436.12,329.47 437.71,331.50 439.31,333.48 440.90,335.41 442.49,337.27 444.08,339.05 445.67,340.75 447.26,342.36 448.85,343.87 450.44,345.30 452.03,346.62 453.62,347.86 455.22,349.00 456.81,350.05 458.40,351.01 459.99,351.90 461.58,352.70 463.17,353.43 464.76,354.10 466.35,354.70 467.94,355.25 469.53,355.74 471.13,356.18 472.72,356.58 474.31,356.93 475.90,357.25 477.49,357.54 479.08,357.80 480.67,358.03 482.26,358.23 483.85,358.42 485.44,358.58 487.04,358.72 488.63,358.85 490.22,358.97 491.81,359.07 493.40,359.17" fill="none" stroke="#c7c7cd" stroke-width="0.9" stroke-opacity="1.0" stroke-linejoin="round"/>
<polyline points="351.80,290.14 353.39,290.16 354.98,290.18 356.57,290.21 358.16,290.24 359.76,290.27 361.35,290.30 362.94,290.34 364.53,290.38 366.12,290.43 367.71,290.49 369.30,290.55 370.89,290.62 372.48,290.69 374.07,290.78 375.67,290.87 377.26,290.98 378.85,291.10 380.44,291.23 382.03,291.38 383.62,291.54 385.21,291.72 386.80,291.93 388.39,292.16 389.98,292.41 391.58,292.69 393.17,293.00 394.76,293.35 396.35,293.74 397.94,294.16 399.53,294.63 401.12,295.15 402.71,295.73 404.30,296.36 405.89,297.05 407.49,297.81 409.08,298.64 410.67,299.55 412.26,300.53 413.85,301.59 415.44,302.74 417.03,303.98 418.62,305.31 420.21,306.72 421.80,308.23 423.40,309.81 424.99,311.49 426.58,313.23 428.17,315.05 429.76,316.94 431.35,318.87 432.94,320.85 434.53,322.86 436.12,324.89 437.71,326.92 439.31,328.94 440.90,330.95 442.49,332.92 444.08,334.84 445.67,336.71 447.26,338.52 448.85,340.25 450.44,341.91 452.03,343.48 453.62,344.97 455.22,346.37 456.81,347.67 458.40,348.89 459.99,350.03 461.58,351.07 463.17,352.04 464.76,352.93 466.35,353.75 467.94,354.49 469.53,355.17 471.13,355.79 472.72,356.35 474.31,356.86 475.90,357.33 477.49,357.74 479.08,358.12 480.67,358.46 482.26,358.77 483.85,359.04 485.44,359.29 487.04,359.51 488.63,359.71 490.22,359.89 491.81,360.06 493.40,360.20" fill="none" stroke="#c7c7cd" stroke-width="0.9" stroke-opacity="1.0" stroke-linejoin="round"/>
<polyline points="351.80,290.81 353.39,290.82 354.98,290.83 356.57,290.85 358.16,290.86 359.76,290.88 361.35,290.89 362.94,290.91 364.53,290.94 366.12,290.96 367.71,290.99 369.30,291.03 370.89,291.06 372.48,291.11 374.07,291.15 375.67,291.21 377.26,291.27 378.85,291.34 380.44,291.42 382.03,291.50 383.62,291.60 385.21,291.72 386.80,291.84 388.39,291.99 389.98,292.15 391.58,292.33 393.17,292.53 394.76,292.76 396.35,293.02 397.94,293.31 399.53,293.64 401.12,294.00 402.71,294.41 404.30,294.86 405.89,295.37 407.49,295.93 409.08,296.55 410.67,297.24 412.26,298.00 413.85,298.84 415.44,299.76 417.03,300.77 418.62,301.86 420.21,303.05 421.80,304.33 423.40,305.70 424.99,307.17 426.58,308.73 428.17,310.38 429.76,312.11 431.35,313.91 432.94,315.77 434.53,317.68 436.12,319.63 437.71,321.61 439.31,323.59 440.90,325.56 442.49,327.51 444.08,329.43 445.67,331.30 447.26,333.10 448.85,334.83 450.44,336.49 452.03,338.05 453.62,339.53 455.22,340.91 456.81,342.19 458.40,343.39 459.99,344.49 461.58,345.50 463.17,346.42 464.76,347.27 466.35,348.03 467.94,348.73 469.53,349.36 471.13,349.92 472.72,350.43 474.31,350.89 475.90,351.30 477.49,351.66 479.08,351.99 480.67,352.28 482.26,352.54 483.85,352.77 485.44,352.98 487.04,353.16 488.63,353.32 490.22,353.47 491.81,353.60 493.40,353.71" fill="none" stroke="#c7c7cd" stroke-width="0.9" stroke-opacity="1.0" stroke-linejoin="round"/>
<polyline points="351.80,290.78 353.39,290.79 354.98,290.79 356.57,290.80 358.16,290.81 359.76,290.82 361.35,290.83 362.94,290.84 364.53,290.85 366.12,290.87 367.71,290.88 369.30,290.90 370.89,290.92 372.48,290.95 374.07,290.97 375.67,291.01 377.26,291.04 378.85,291.08 380.44,291.13 382.03,291.18 383.62,291.23 385.21,291.30 386.80,291.37 388.39,291.45 389.98,291.55 391.58,291.65 393.17,291.77 394.76,291.91 396.35,292.06 397.94,292.23 399.53,292.42 401.12,292.63 402.71,292.88 404.30,293.15 405.89,293.46 407.49,293.80 409.08,294.19 410.67,294.62 412.26,295.10 413.85,295.64 415.44,296.24 417.03,296.90 418.62,297.64 420.21,298.45 421.80,299.35 423.40,300.33 424.99,301.41 426.58,302.59 428.17,303.87 429.76,305.26 431.35,306.75 432.94,308.35 434.53,310.05 436.12,311.85 437.71,313.75 439.31,315.73 440.90,317.79 442.49,319.92 444.08,322.09 445.67,324.30 447.26,326.52 448.85,328.75 450.44,330.96 452.03,333.14 453.62,335.27 455.22,337.34 456.81,339.33 458.40,341.24 459.99,343.05 461.58,344.77 463.17,346.38 464.76,347.88 466.35,349.28 467.94,350.57 469.53,351.76 471.13,352.85 472.72,353.85 474.31,354.75 475.90,355.58 477.49,356.32 479.08,356.99 480.67,357.60 482.26,358.14 483.85,358.63 485.44,359.07 487.04,359.46 488.63,359.81 490.22,360.12 491.81,360.39 493.40,360.64" fill="none" stroke="#c7c7cd" stroke-width="0.9" stroke-opacity="1.0" stroke-linejoin="round"/>
<polyline points="351.80,289.22 353.39,289.31 354.98,289.40 356.57,289.49 358.16,289.58 359.76,289.67 361.35,289.77 362.94,289.87 364.53,289.96 366.12,290.06 367.71,290.17 369.30,290.27 370.89,290.37 372.48,290.48 374.07,290.58 375.67,290.69 377.26,290.80 378.85,290.91 380.44,291.02 382.03,291.13 383.62,291.24 385.21,291.36 386.80,291.47 388.39,291.59 389.98,291.70 391.58,291.82 393.17,291.94 394.76,292.06 396.35,292.18 397.94,292.30 399.53,292.43 401.12,292.56 402.71,292.69 404.30,292.82 405.89,292.95 407.49,293.09 409.08,293.23 410.67,293.37 412.26,293.52 413.85,293.67 415.44,293.82 417.03,293.98 418.62,294.15 420.21,294.33 421.80,294.51 423.40,294.69 424.99,294.89 426.58,295.08 428.17,295.28 429.76,295.49 431.35,295.69 432.94,295.90 434.53,296.11 436.12,296.32 437.71,296.54 439.31,296.75 440.90,296.96 442.49,297.18 444.08,297.39 445.67,297.60 447.26,297.80 448.85,298.01 450.44,298.21 452.03,298.41 453.62,298.60 455.22,298.79 456.81,298.97 458.40,299.14 459.99,299.32 461.58,299.49 463.17,299.66 464.76,299.83 466.35,299.99 467.94,300.16 469.53,300.32 471.13,300.49 472.72,300.65 474.31,300.81 475.90,300.96 477.49,301.12 479.08,301.28 480.67,301.43 482.26,301.58 483.85,301.73 485.44,301.88 487.04,302.03 488.63,302.17 490.22,302.31 491.81,302.46 493.40,302.60" fill="none" stroke="#c7c7cd" stroke-width="0.9" stroke-opacity="1.0" stroke-linejoin="round"/>
<polyline points="351.80,291.48 353.39,291.54 354.98,291.60 356.57,291.67 358.16,291.75 359.76,291.84 361.35,291.94 362.94,292.05 364.53,292.17 366.12,292.30 367.71,292.45 369.30,292.61 370.89,292.78 372.48,292.97 374.07,293.17 375.67,293.38 377.26,293.62 378.85,293.86 380.44,294.12 382.03,294.39 383.62,294.68 385.21,294.98 386.80,295.29 388.39,295.60 389.98,295.93 391.58,296.26 393.17,296.60 394.76,296.94 396.35,297.29 397.94,297.64 399.53,297.99 401.12,298.34 402.71,298.69 404.30,299.03 405.89,299.37 407.49,299.71 409.08,300.05 410.67,300.38 412.26,300.71 413.85,301.03 415.44,301.35 417.03,301.66 418.62,301.96 420.21,302.26 421.80,302.55 423.40,302.84 424.99,303.12 426.58,303.39 428.17,303.66 429.76,303.92 431.35,304.18 432.94,304.42 434.53,304.67 436.12,304.90 437.71,305.14 439.31,305.36 440.90,305.58 442.49,305.80 444.08,306.01 445.67,306.21 447.26,306.41 448.85,306.60 450.44,306.79 452.03,306.98 453.62,307.16 455.22,307.33 456.81,307.50 458.40,307.67 459.99,307.83 461.58,307.99 463.17,308.14 464.76,308.29 466.35,308.43 467.94,308.58 469.53,308.71 471.13,308.85 472.72,308.98 474.31,309.11 475.90,309.23 477.49,309.35 479.08,309.47 480.67,309.59 482.26,309.70 483.85,309.81 485.44,309.92 487.04,310.02 488.63,310.12 490.22,310.22 491.81,310.32 493.40,310.41" fill="none" stroke="#c7c7cd" stroke-width="0.9" stroke-opacity="1.0" stroke-linejoin="round"/>
<polyline points="351.80,285.42 353.39,285.42 354.98,285.41 356.57,285.41 358.16,285.40 359.76,285.40 361.35,285.39 362.94,285.39 364.53,285.39 366.12,285.38 367.71,285.38 369.30,285.37 370.89,285.37 372.48,285.36 374.07,285.36 375.67,285.36 377.26,285.35 378.85,285.35 380.44,285.34 382.03,285.34 383.62,285.33 385.21,285.33 386.80,285.33 388.39,285.32 389.98,285.32 391.58,285.31 393.17,285.31 394.76,285.30 396.35,285.30 397.94,285.30 399.53,285.29 401.12,285.29 402.71,285.28 404.30,285.28 405.89,285.27 407.49,285.27 409.08,285.27 410.67,285.26 412.26,285.26 413.85,285.25 415.44,285.25 417.03,285.24 418.62,285.24 420.21,285.24 421.80,285.23 423.40,285.23 424.99,285.22 426.58,285.22 428.17,285.22 429.76,285.21 431.35,285.21 432.94,285.20 434.53,285.20 436.12,285.19 437.71,285.19 439.31,285.19 440.90,285.18 442.49,285.18 444.08,285.17 445.67,285.17 447.26,285.16 448.85,285.16 450.44,285.16 452.03,285.15 453.62,285.15 455.22,285.14 456.81,285.14 458.40,285.13 459.99,285.13 461.58,285.13 463.17,285.12 464.76,285.12 466.35,285.11 467.94,285.11 469.53,285.10 471.13,285.10 472.72,285.10 474.31,285.09 475.90,285.09 477.49,285.08 479.08,285.08 480.67,285.07 482.26,285.07 483.85,285.07 485.44,285.06 487.04,285.06 488.63,285.05 490.22,285.05 491.81,285.04 493.40,285.04" fill="none" stroke="#c7c7cd" stroke-width="0.9" stroke-opacity="1.0" stroke-linejoin="round"/>
<polyline points="351.80,286.94 353.39,286.94 354.98,286.94 356.57,286.94 358.16,286.94 359.76,286.94 361.35,286.94 362.94,286.94 364.53,286.94 366.12,286.94 367.71,286.94 369.30,286.94 370.89,286.94 372.48,286.94 374.07,286.94 375.67,286.94 377.26,286.94 378.85,286.94 380.44,286.94 382.03,286.94 383.62,286.94 385.21,286.94 386.80,286.94 388.39,286.94 389.98,286.94 391.58,286.94 393.17,286.94 394.76,286.94 396.35,286.94 397.94,286.94 399.53,286.94 401.12,286.94 402.71,286.94 404.30,286.94 405.89,286.94 407.49,286.94 409.08,286.94 410.67,286.94 412.26,286.94 413.85,286.94 415.44,286.94 417.03,286.94 418.62,286.94 420.21,286.94 421.80,286.94 423.40,286.94 424.99,286.94 426.58,286.94 428.17,286.94 429.76,286.94 431.35,286.94 432.94,286.94 434.53,286.94 436.12,286.94 437.71,286.94 439.31,286.94 440.90,286.94 442.49,286.94 444.08,286.94 445.67,286.94 447.26,286.94 448.85,286.94 450.44,286.94 452.03,286.94 453.62,286.94 455.22,286.94 456.81,286.94 458.40,286.94 459.99,286.94 461.58,286.94 463.17,286.94 464.76,286.94 466.35,286.94 467.94,286.94 469.53,286.94 471.13,286.94 472.72,286.94 474.31,286.94 475.90,286.94 477.49,286.94 479.08,286.94 480.67,286.94 482.26,286.94 483.85,286.94 485.44,286.94 487.04,286.94 488.63,286.94 490.22,286.94 491.81,286.94 493.40,286.94" fill="none" stroke="#c7c7cd" stroke-width="0.9" stroke-opacity="1.0" stroke-linejoin="round"/>
<polyline points="351.80,292.27 353.39,292.28 354.98,292.29 356.57,292.31 358.16,292.33 359.76,292.34 361.35,292.36 362.94,292.38 364.53,292.41 366.12,292.43 367.71,292.46 369.30,292.48 370.89,292.52 372.48,292.55 374.07,292.58 375.67,292.62 377.26,292.66 378.85,292.71 380.44,292.76 382.03,292.81 383.62,292.87 385.21,292.93 386.80,292.99 388.39,293.06 389.98,293.14 391.58,293.22 393.17,293.31 394.76,293.41 396.35,293.51 397.94,293.62 399.53,293.74 401.12,293.87 402.71,294.00 404.30,294.15 405.89,294.31 407.49,294.48 409.08,294.66 410.67,294.86 412.26,295.07 413.85,295.29 415.44,295.53 417.03,295.79 418.62,296.06 420.21,296.35 421.80,296.66 423.40,296.99 424.99,297.34 426.58,297.71 428.17,298.10 429.76,298.51 431.35,298.95 432.94,299.40 434.53,299.88 436.12,300.38 437.71,300.91 439.31,301.46 440.90,302.02 442.49,302.61 444.08,303.21 445.67,303.84 447.26,304.47 448.85,305.13 450.44,305.79 452.03,306.46 453.62,307.13 455.22,307.81 456.81,308.48 458.40,309.15 459.99,309.80 461.58,310.45 463.17,311.07 464.76,311.68 466.35,312.26 467.94,312.82 469.53,313.34 471.13,313.84 472.72,314.30 474.31,314.72 475.90,315.11 477.49,315.47 479.08,315.79 480.67,316.07 482.26,316.32 483.85,316.54 485.44,316.73 487.04,316.90 488.63,317.04 490.22,317.16 491.81,317.26 493.40,317.34" fill="none" stroke="#c7c7cd" stroke-width="0.9" stroke-opacity="1.0" stroke-linejoin="round"/>
<polyline points="351.80,282.62 353.39,282.63 354.98,282.65 356.57,282.66 358.16,282.68 359.76,282.70 361.35,282.72 362.94,282.75 364.53,282.77 366.12,282.80 367.71,282.83 369.30,282.86 370.89,282.89 372.48,282.93 374.07,282.97 375.67,283.01 377.26,283.06 378.85,283.11 380.44,283.16 382.03,283.22 383.62,283.28 385.21,283.35 386.80,283.42 388.39,283.50 389.98,283.59 391.58,283.68 393.17,283.78 394.76,283.89 396.35,284.01 397.94,284.13 399.53,284.27 401.12,284.42 402.71,284.57 404.30,284.74 405.89,284.93 407.49,285.12 409.08,285.34 410.67,285.56 412.26,285.81 413.85,286.07 415.44,286.35 417.03,286.65 418.62,286.98 420.21,287.32 421.80,287.69 423.40,288.08 424.99,288.51 426.58,288.95 428.17,289.43 429.76,289.94 431.35,290.47 432.94,291.04 434.53,291.65 436.12,292.28 437.71,292.95 439.31,293.66 440.90,294.39 442.49,295.17 444.08,295.97 445.67,296.81 447.26,297.68 448.85,298.58 450.44,299.50 452.03,300.45 453.62,301.43 455.22,302.42 456.81,303.42 458.40,304.44 459.99,305.46 461.58,306.48 463.17,307.49 464.76,308.50 466.35,309.48 467.94,310.44 469.53,311.38 471.13,312.28 472.72,313.14 474.31,313.96 475.90,314.74 477.49,315.46 479.08,316.14 480.67,316.76 482.26,317.33 483.85,317.84 485.44,318.30 487.04,318.71 488.63,319.08 490.22,319.40 491.81,319.67 493.40,319.91" fill="none" stroke="#f0a02c" stroke-width="1.2" stroke-opacity="1.0" stroke-linejoin="round"/>
<polyline points="351.80,291.12 353.39,291.09 354.98,291.07 356.57,291.04 358.16,291.02 359.76,290.99 361.35,290.97 362.94,290.94 364.53,290.92 366.12,290.89 367.71,290.87 369.30,290.84 370.89,290.82 372.48,290.80 374.07,290.77 375.67,290.75 377.26,290.73 378.85,290.71 380.44,290.68 382.03,290.66 383.62,290.64 385.21,290.62 386.80,290.60 388.39,290.58 389.98,290.56 391.58,290.55 393.17,290.53 394.76,290.51 396.35,290.50 397.94,290.48 399.53,290.47 401.12,290.45 402.71,290.44 404.30,290.43 405.89,290.42 407.49,290.41 409.08,290.40 410.67,290.39 412.26,290.38 413.85,290.38 415.44,290.37 417.03,290.37 418.62,290.36 420.21,290.36 421.80,290.36 423.40,290.36 424.99,290.36 426.58,290.36 428.17,290.36 429.76,290.36 431.35,290.36 432.94,290.36 434.53,290.36 436.12,290.36 437.71,290.36 439.31,290.36 440.90,290.36 442.49,290.36 444.08,290.36 445.67,290.36 447.26,290.36 448.85,290.36 450.44,290.36 452.03,290.36 453.62,290.36 455.22,290.36 456.81,290.36 458.40,290.36 459.99,290.36 461.58,290.36 463.17,290.36 464.76,290.36 466.35,290.36 467.94,290.36 469.53,290.36 471.13,290.36 472.72,290.36 474.31,290.36 475.90,290.36 477.49,290.36 479.08,290.36 480.67,290.36 482.26,290.36 483.85,290.36 485.44,290.36 487.04,290.36 488.63,290.36 490.22,290.36 491.81,290.36 493.40,290.36" fill="none" stroke="#f0a02c" stroke-width="1.1" stroke-opacity="1.0" stroke-linejoin="round"/>
<polyline points="351.80,295.53 353.39,295.39 354.98,295.26 356.57,295.13 358.16,295.00 359.76,294.87 361.35,294.75 362.94,294.63 364.53,294.51 366.12,294.40 367.71,294.29 369.30,294.18 370.89,294.08 372.48,293.99 374.07,293.90 375.67,293.81 377.26,293.73 378.85,293.66 380.44,293.60 382.03,293.54 383.62,293.49 385.21,293.44 386.80,293.41 388.39,293.38 389.98,293.35 391.58,293.32 393.17,293.30 394.76,293.27 396.35,293.25 397.94,293.22 399.53,293.20 401.12,293.18 402.71,293.16 404.30,293.14 405.89,293.12 407.49,293.10 409.08,293.09 410.67,293.07 412.26,293.06 413.85,293.05 415.44,293.04 417.03,293.03 418.62,293.03 420.21,293.02 421.80,293.02 423.40,293.02 424.99,293.04 426.58,293.07 428.17,293.11 429.76,293.17 431.35,293.24 432.94,293.32 434.53,293.41 436.12,293.51 437.71,293.62 439.31,293.74 440.90,293.86 442.49,293.99 444.08,294.12 445.67,294.25 447.26,294.39 448.85,294.53 450.44,294.67 452.03,294.80 453.62,294.94 455.22,295.07 456.81,295.20 458.40,295.33 459.99,295.46 461.58,295.59 463.17,295.73 464.76,295.86 466.35,296.01 467.94,296.15 469.53,296.30 471.13,296.45 472.72,296.61 474.31,296.77 475.90,296.93 477.49,297.09 479.08,297.26 480.67,297.43 482.26,297.60 483.85,297.77 485.44,297.95 487.04,298.13 488.63,298.31 490.22,298.50 491.81,298.68 493.40,298.87" fill="none" stroke="#b5123a" stroke-width="1.1" stroke-opacity="1.0" stroke-linejoin="round"/>
<polyline points="351.80,293.02 353.39,292.98 354.98,292.94 356.57,292.89 358.16,292.85 359.76,292.81 361.35,292.77 362.94,292.73 364.53,292.69 366.12,292.65 367.71,292.61 369.30,292.57 370.89,292.53 372.48,292.49 374.07,292.45 375.67,292.41 377.26,292.38 378.85,292.34 380.44,292.30 382.03,292.26 383.62,292.23 385.21,292.19 386.80,292.16 388.39,292.12 389.98,292.09 391.58,292.06 393.17,292.02 394.76,291.99 396.35,291.96 397.94,291.92 399.53,291.89 401.12,291.86 402.71,291.83 404.30,291.80 405.89,291.77 407.49,291.74 409.08,291.72 410.67,291.69 412.26,291.66 413.85,291.63 415.44,291.61 417.03,291.58 418.62,291.56 420.21,291.53 421.80,291.51 423.40,291.49 424.99,291.47 426.58,291.44 428.17,291.42 429.76,291.40 431.35,291.38 432.94,291.36 434.53,291.33 436.12,291.31 437.71,291.29 439.31,291.27 440.90,291.25 442.49,291.23 444.08,291.21 445.67,291.19 447.26,291.17 448.85,291.15 450.44,291.13 452.03,291.11 453.62,291.09 455.22,291.07 456.81,291.05 458.40,291.04 459.99,291.02 461.58,291.00 463.17,290.98 464.76,290.97 466.35,290.95 467.94,290.94 469.53,290.92 471.13,290.91 472.72,290.89 474.31,290.88 475.90,290.86 477.49,290.85 479.08,290.84 480.67,290.82 482.26,290.81 483.85,290.80 485.44,290.79 487.04,290.78 488.63,290.77 490.22,290.76 491.81,290.75 493.40,290.74" fill="none" stroke="#b5123a" stroke-width="1.1" stroke-opacity="1.0" stroke-linejoin="round"/>
<polyline points="351.80,290.36 353.39,290.36 354.98,290.35 356.57,290.35 358.16,290.34 359.76,290.34 361.35,290.33 362.94,290.33 364.53,290.33 366.12,290.32 367.71,290.32 369.30,290.31 370.89,290.31 372.48,290.30 374.07,290.30 375.67,290.30 377.26,290.29 378.85,290.29 380.44,290.28 382.03,290.28 383.62,290.27 385.21,290.27 386.80,290.27 388.39,290.26 389.98,290.26 391.58,290.25 393.17,290.25 394.76,290.24 396.35,290.24 397.94,290.24 399.53,290.23 401.12,290.23 402.71,290.22 404.30,290.22 405.89,290.21 407.49,290.21 409.08,290.21 410.67,290.20 412.26,290.20 413.85,290.19 415.44,290.19 417.03,290.18 418.62,290.18 420.21,290.18 421.80,290.17 423.40,290.17 424.99,290.16 426.58,290.16 428.17,290.16 429.76,290.15 431.35,290.15 432.94,290.14 434.53,290.14 436.12,290.13 437.71,290.13 439.31,290.13 440.90,290.12 442.49,290.12 444.08,290.11 445.67,290.11 447.26,290.10 448.85,290.10 450.44,290.10 452.03,290.09 453.62,290.09 455.22,290.08 456.81,290.08 458.40,290.07 459.99,290.07 461.58,290.07 463.17,290.06 464.76,290.06 466.35,290.05 467.94,290.05 469.53,290.04 471.13,290.04 472.72,290.04 474.31,290.03 475.90,290.03 477.49,290.02 479.08,290.02 480.67,290.01 482.26,290.01 483.85,290.01 485.44,290.00 487.04,290.00 488.63,289.99 490.22,289.99 491.81,289.98 493.40,289.98" fill="none" stroke="#b5123a" stroke-width="1.0" stroke-opacity="1.0" stroke-linejoin="round"/>
<polyline points="351.80,288.99 353.39,288.99 354.98,288.98 356.57,288.98 358.16,288.97 359.76,288.97 361.35,288.97 362.94,288.96 364.53,288.96 366.12,288.95 367.71,288.95 369.30,288.95 370.89,288.94 372.48,288.94 374.07,288.93 375.67,288.93 377.26,288.92 378.85,288.92 380.44,288.92 382.03,288.91 383.62,288.91 385.21,288.90 386.80,288.90 388.39,288.89 389.98,288.89 391.58,288.89 393.17,288.88 394.76,288.88 396.35,288.87 397.94,288.87 399.53,288.86 401.12,288.86 402.71,288.86 404.30,288.85 405.89,288.85 407.49,288.84 409.08,288.84 410.67,288.83 412.26,288.83 413.85,288.83 415.44,288.82 417.03,288.82 418.62,288.81 420.21,288.81 421.80,288.80 423.40,288.80 424.99,288.80 426.58,288.79 428.17,288.79 429.76,288.78 431.35,288.78 432.94,288.77 434.53,288.77 436.12,288.77 437.71,288.76 439.31,288.76 440.90,288.75 442.49,288.75 444.08,288.74 445.67,288.74 447.26,288.74 448.85,288.73 450.44,288.73 452.03,288.72 453.62,288.72 455.22,288.71 456.81,288.71 458.40,288.71 459.99,288.70 461.58,288.70 463.17,288.69 464.76,288.69 466.35,288.68 467.94,288.68 469.53,288.68 471.13,288.67 472.72,288.67 474.31,288.66 475.90,288.66 477.49,288.65 479.08,288.65 480.67,288.65 482.26,288.64 483.85,288.64 485.44,288.63 487.04,288.63 488.63,288.62 490.22,288.62 491.81,288.62 493.40,288.61" fill="none" stroke="#cc1c2c" stroke-width="1.5" stroke-opacity="1.0" stroke-linejoin="round"/>
<text x="494.7" y="286.9" font-size="4.6" fill="#b5123a" font-weight="normal" text-anchor="start" fill-opacity="0.8">F36P</text>
<text x="494.7" y="291.8" font-size="4.6" fill="#f0a02c" font-weight="normal" text-anchor="start" fill-opacity="0.8">OCIM1, CMK</text>
<text x="494.7" y="300.2" font-size="4.6" fill="#b5123a" font-weight="normal" text-anchor="start" fill-opacity="0.8">TF1</text>
<text x="494.7" y="322.3" font-size="4.6" fill="#f0a02c" font-weight="normal" text-anchor="start" fill-opacity="0.8">MO7</text>
<line x1="351.8" y1="441.40" x2="493.4" y2="441.40" stroke="#333" stroke-width="0.95" stroke-dasharray="3.4,2.4"/>
<polyline points="351.8,387.8 351.8,479.7 493.9,479.7" fill="none" stroke="#222" stroke-width="1.1"/>
<line x1="348.80" y1="479.40" x2="351.80" y2="479.40" stroke="#222" stroke-width="1"/>
<text x="346.2" y="482.3" font-size="8.3" fill="#2b2b2b" font-weight="normal" text-anchor="end">0</text>
<line x1="348.80" y1="460.40" x2="351.80" y2="460.40" stroke="#222" stroke-width="1"/>
<text x="346.2" y="463.3" font-size="8.3" fill="#2b2b2b" font-weight="normal" text-anchor="end">25</text>
<line x1="348.80" y1="441.40" x2="351.80" y2="441.40" stroke="#222" stroke-width="1"/>
<text x="346.2" y="444.3" font-size="8.3" fill="#2b2b2b" font-weight="normal" text-anchor="end">50</text>
<line x1="348.80" y1="422.40" x2="351.80" y2="422.40" stroke="#222" stroke-width="1"/>
<text x="346.2" y="425.3" font-size="8.3" fill="#2b2b2b" font-weight="normal" text-anchor="end">75</text>
<line x1="348.80" y1="403.40" x2="351.80" y2="403.40" stroke="#222" stroke-width="1"/>
<text x="346.2" y="406.3" font-size="8.3" fill="#2b2b2b" font-weight="normal" text-anchor="end">100</text>
<line x1="351.80" y1="479.70" x2="351.80" y2="481.90" stroke="#222" stroke-width="1"/>
<text x="351.8" y="492.2" font-size="8.3" fill="#2b2b2b" font-weight="normal" text-anchor="middle">1</text>
<line x1="387.20" y1="479.70" x2="387.20" y2="481.90" stroke="#222" stroke-width="1"/>
<text x="387.2" y="492.2" font-size="8.3" fill="#2b2b2b" font-weight="normal" text-anchor="middle">10</text>
<line x1="422.60" y1="479.70" x2="422.60" y2="481.90" stroke="#222" stroke-width="1"/>
<text x="422.6" y="492.2" font-size="8.3" fill="#2b2b2b" font-weight="normal" text-anchor="middle">100</text>
<line x1="458.00" y1="479.70" x2="458.00" y2="481.90" stroke="#222" stroke-width="1"/>
<text x="458.0" y="492.2" font-size="8.3" fill="#2b2b2b" font-weight="normal" text-anchor="middle">1000</text>
<line x1="493.40" y1="479.70" x2="493.40" y2="481.90" stroke="#222" stroke-width="1"/>
<text x="493.4" y="492.2" font-size="8.3" fill="#2b2b2b" font-weight="normal" text-anchor="middle">10000</text>
<text x="370.0" y="395.2" font-size="8.6" fill="#2b2b2b" font-weight="normal" text-anchor="start" textLength="107.5" lengthAdjust="spacingAndGlyphs">Navitoclax (BCL-2, BCL-XL)</text>
<text transform="translate(326.0,433.4) rotate(-90)" font-size="9.7" fill="#2b2b2b" text-anchor="middle" textLength="34.5" lengthAdjust="spacingAndGlyphs">% viability</text>
<polyline points="351.80,398.84 353.39,398.85 354.98,398.86 356.57,398.87 358.16,398.87 359.76,398.88 361.35,398.89 362.94,398.90 364.53,398.91 366.12,398.92 367.71,398.93 369.30,398.93 370.89,398.94 372.48,398.95 374.07,398.96 375.67,398.97 377.26,398.98 378.85,398.99 380.44,398.99 382.03,399.00 383.62,399.01 385.21,399.02 386.80,399.03 388.39,399.04 389.98,399.04 391.58,399.05 393.17,399.06 394.76,399.07 396.35,399.08 397.94,399.09 399.53,399.10 401.12,399.10 402.71,399.11 404.30,399.12 405.89,399.13 407.49,399.14 409.08,399.15 410.67,399.16 412.26,399.16 413.85,399.17 415.44,399.18 417.03,399.19 418.62,399.20 420.21,399.21 421.80,399.22 423.40,399.22 424.99,399.23 426.58,399.24 428.17,399.25 429.76,399.26 431.35,399.27 432.94,399.28 434.53,399.28 436.12,399.29 437.71,399.30 439.31,399.31 440.90,399.32 442.49,399.33 444.08,399.34 445.67,399.34 447.26,399.35 448.85,399.36 450.44,399.37 452.03,399.38 453.62,399.39 455.22,399.40 456.81,399.40 458.40,399.41 459.99,399.42 461.58,399.43 463.17,399.44 464.76,399.45 466.35,399.45 467.94,399.46 469.53,399.47 471.13,399.48 472.72,399.49 474.31,399.50 475.90,399.51 477.49,399.51 479.08,399.52 480.67,399.53 482.26,399.54 483.85,399.55 485.44,399.56 487.04,399.57 488.63,399.57 490.22,399.58 491.81,399.59 493.40,399.60" fill="none" stroke="#c7c7cd" stroke-width="0.9" stroke-opacity="1.0" stroke-linejoin="round"/>
<polyline points="351.80,408.72 353.39,408.73 354.98,408.73 356.57,408.74 358.16,408.74 359.76,408.75 361.35,408.75 362.94,408.76 364.53,408.76 366.12,408.77 367.71,408.77 369.30,408.78 370.89,408.78 372.48,408.79 374.07,408.79 375.67,408.80 377.26,408.80 378.85,408.81 380.44,408.81 382.03,408.82 383.62,408.82 385.21,408.83 386.80,408.83 388.39,408.84 389.98,408.84 391.58,408.85 393.17,408.85 394.76,408.86 396.35,408.86 397.94,408.87 399.53,408.87 401.12,408.88 402.71,408.88 404.30,408.89 405.89,408.89 407.49,408.90 409.08,408.90 410.67,408.91 412.26,408.91 413.85,408.92 415.44,408.92 417.03,408.93 418.62,408.94 420.21,408.94 421.80,408.95 423.40,408.95 424.99,408.96 426.58,408.96 428.17,408.97 429.76,408.97 431.35,408.98 432.94,408.98 434.53,408.99 436.12,408.99 437.71,409.00 439.31,409.00 440.90,409.01 442.49,409.01 444.08,409.02 445.67,409.02 447.26,409.03 448.85,409.03 450.44,409.04 452.03,409.04 453.62,409.05 455.22,409.05 456.81,409.06 458.40,409.06 459.99,409.07 461.58,409.07 463.17,409.08 464.76,409.08 466.35,409.09 467.94,409.09 469.53,409.10 471.13,409.10 472.72,409.11 474.31,409.11 475.90,409.12 477.49,409.12 479.08,409.13 480.67,409.14 482.26,409.14 483.85,409.15 485.44,409.15 487.04,409.16 488.63,409.16 490.22,409.17 491.81,409.17 493.40,409.18" fill="none" stroke="#c7c7cd" stroke-width="0.9" stroke-opacity="1.0" stroke-linejoin="round"/>
<polyline points="351.80,408.03 353.39,408.15 354.98,408.29 356.57,408.44 358.16,408.61 359.76,408.81 361.35,409.04 362.94,409.30 364.53,409.59 366.12,409.92 367.71,410.29 369.30,410.71 370.89,411.19 372.48,411.73 374.07,412.33 375.67,413.01 377.26,413.77 378.85,414.62 380.44,415.56 382.03,416.61 383.62,417.76 385.21,419.02 386.80,420.41 388.39,421.91 389.98,423.54 391.58,425.29 393.17,427.16 394.76,429.15 396.35,431.23 397.94,433.41 399.53,435.66 401.12,437.98 402.71,440.33 404.30,442.71 405.89,445.08 407.49,447.43 409.08,449.74 410.67,451.98 412.26,454.15 413.85,456.22 415.44,458.18 417.03,460.04 418.62,461.77 420.21,463.38 421.80,464.87 423.40,466.24 424.99,467.49 426.58,468.63 428.17,469.66 429.76,470.58 431.35,471.42 432.94,472.17 434.53,472.83 436.12,473.43 437.71,473.96 439.31,474.43 440.90,474.84 442.49,475.21 444.08,475.54 445.67,475.82 447.26,476.08 448.85,476.30 450.44,476.49 452.03,476.66 453.62,476.81 455.22,476.95 456.81,477.06 458.40,477.17 459.99,477.25 461.58,477.33 463.17,477.40 464.76,477.46 466.35,477.51 467.94,477.56 469.53,477.60 471.13,477.63 472.72,477.67 474.31,477.69 475.90,477.72 477.49,477.74 479.08,477.75 480.67,477.77 482.26,477.78 483.85,477.80 485.44,477.81 487.04,477.82 488.63,477.82 490.22,477.83 491.81,477.84 493.40,477.84" fill="none" stroke="#c7c7cd" stroke-width="0.9" stroke-opacity="1.0" stroke-linejoin="round"/>
<polyline points="351.80,407.60 353.39,407.67 354.98,407.74 356.57,407.82 358.16,407.92 359.76,408.03 361.35,408.16 362.94,408.30 364.53,408.47 366.12,408.67 367.71,408.89 369.30,409.14 370.89,409.44 372.48,409.77 374.07,410.16 375.67,410.59 377.26,411.09 378.85,411.66 380.44,412.30 382.03,413.03 383.62,413.85 385.21,414.78 386.80,415.81 388.39,416.96 389.98,418.23 391.58,419.64 393.17,421.19 394.76,422.87 396.35,424.68 397.94,426.64 399.53,428.71 401.12,430.90 402.71,433.20 404.30,435.57 405.89,438.00 407.49,440.46 409.08,442.94 410.67,445.40 412.26,447.82 413.85,450.17 415.44,452.44 417.03,454.61 418.62,456.65 420.21,458.57 421.80,460.36 423.40,462.01 424.99,463.52 426.58,464.89 428.17,466.13 429.76,467.26 431.35,468.26 432.94,469.16 434.53,469.95 436.12,470.66 437.71,471.28 439.31,471.83 440.90,472.32 442.49,472.74 444.08,473.11 445.67,473.44 447.26,473.72 448.85,473.97 450.44,474.18 452.03,474.37 453.62,474.54 455.22,474.68 456.81,474.80 458.40,474.91 459.99,475.00 461.58,475.08 463.17,475.15 464.76,475.21 466.35,475.26 467.94,475.31 469.53,475.35 471.13,475.38 472.72,475.41 474.31,475.44 475.90,475.46 477.49,475.48 479.08,475.49 480.67,475.51 482.26,475.52 483.85,475.53 485.44,475.54 487.04,475.55 488.63,475.56 490.22,475.56 491.81,475.57 493.40,475.57" fill="none" stroke="#c7c7cd" stroke-width="0.9" stroke-opacity="1.0" stroke-linejoin="round"/>
<polyline points="351.80,405.91 353.39,405.94 354.98,405.98 356.57,406.03 358.16,406.08 359.76,406.15 361.35,406.22 362.94,406.30 364.53,406.40 366.12,406.51 367.71,406.64 369.30,406.78 370.89,406.95 372.48,407.15 374.07,407.37 375.67,407.63 377.26,407.92 378.85,408.26 380.44,408.64 382.03,409.08 383.62,409.58 385.21,410.15 386.80,410.80 388.39,411.53 389.98,412.35 391.58,413.28 393.17,414.32 394.76,415.48 396.35,416.77 397.94,418.19 399.53,419.76 401.12,421.46 402.71,423.31 404.30,425.29 405.89,427.41 407.49,429.65 409.08,432.00 410.67,434.43 412.26,436.93 413.85,439.47 415.44,442.03 417.03,444.58 418.62,447.09 420.21,449.54 421.80,451.91 423.40,454.17 424.99,456.31 426.58,458.33 428.17,460.20 429.76,461.94 431.35,463.53 432.94,464.98 434.53,466.30 436.12,467.48 437.71,468.55 439.31,469.50 440.90,470.35 442.49,471.10 444.08,471.76 445.67,472.35 447.26,472.86 448.85,473.31 450.44,473.71 452.03,474.05 453.62,474.36 455.22,474.62 456.81,474.85 458.40,475.05 459.99,475.22 461.58,475.37 463.17,475.51 464.76,475.62 466.35,475.72 467.94,475.80 469.53,475.88 471.13,475.94 472.72,476.00 474.31,476.05 475.90,476.09 477.49,476.13 479.08,476.16 480.67,476.18 482.26,476.21 483.85,476.23 485.44,476.25 487.04,476.26 488.63,476.27 490.22,476.29 491.81,476.30 493.40,476.30" fill="none" stroke="#c7c7cd" stroke-width="0.9" stroke-opacity="1.0" stroke-linejoin="round"/>
<polyline points="351.80,406.85 353.39,406.91 354.98,406.97 356.57,407.04 358.16,407.11 359.76,407.20 361.35,407.30 362.94,407.41 364.53,407.54 366.12,407.68 367.71,407.84 369.30,408.03 370.89,408.23 372.48,408.46 374.07,408.72 375.67,409.01 377.26,409.33 378.85,409.69 380.44,410.10 382.03,410.56 383.62,411.06 385.21,411.63 386.80,412.25 388.39,412.95 389.98,413.71 391.58,414.56 393.17,415.49 394.76,416.50 396.35,417.61 397.94,418.81 399.53,420.12 401.12,421.52 402.71,423.02 404.30,424.61 405.89,426.30 407.49,428.08 409.08,429.93 410.67,431.86 412.26,433.84 413.85,435.87 415.44,437.93 417.03,440.00 418.62,442.08 420.21,444.13 421.80,446.16 423.40,448.14 424.99,450.05 426.58,451.90 428.17,453.67 429.76,455.35 431.35,456.93 432.94,458.42 434.53,459.81 436.12,461.10 437.71,462.29 439.31,463.39 440.90,464.39 442.49,465.31 444.08,466.14 445.67,466.90 447.26,467.59 448.85,468.20 450.44,468.76 452.03,469.26 453.62,469.71 455.22,470.11 456.81,470.47 458.40,470.79 459.99,471.08 461.58,471.33 463.17,471.56 464.76,471.76 466.35,471.94 467.94,472.09 469.53,472.24 471.13,472.36 472.72,472.47 474.31,472.57 475.90,472.66 477.49,472.73 479.08,472.80 480.67,472.86 482.26,472.91 483.85,472.96 485.44,473.00 487.04,473.04 488.63,473.07 490.22,473.10 491.81,473.13 493.40,473.15" fill="none" stroke="#c7c7cd" stroke-width="0.9" stroke-opacity="1.0" stroke-linejoin="round"/>
<polyline points="351.80,405.20 353.39,405.24 354.98,405.27 356.57,405.32 358.16,405.36 359.76,405.42 361.35,405.47 362.94,405.54 364.53,405.61 366.12,405.70 367.71,405.79 369.30,405.89 370.89,406.01 372.48,406.14 374.07,406.28 375.67,406.44 377.26,406.62 378.85,406.81 380.44,407.04 382.03,407.28 383.62,407.55 385.21,407.85 386.80,408.19 388.39,408.55 389.98,408.96 391.58,409.41 393.17,409.91 394.76,410.45 396.35,411.05 397.94,411.70 399.53,412.41 401.12,413.18 402.71,414.02 404.30,414.93 405.89,415.91 407.49,416.96 409.08,418.08 410.67,419.27 412.26,420.53 413.85,421.86 415.44,423.26 417.03,424.71 418.62,426.22 420.21,427.77 421.80,429.36 423.40,430.97 424.99,432.61 426.58,434.25 428.17,435.89 429.76,437.52 431.35,439.12 432.94,440.69 434.53,442.22 436.12,443.70 437.71,445.12 439.31,446.48 440.90,447.77 442.49,449.00 444.08,450.15 445.67,451.23 447.26,452.24 448.85,453.18 450.44,454.05 452.03,454.85 453.62,455.59 455.22,456.27 456.81,456.89 458.40,457.45 459.99,457.97 461.58,458.44 463.17,458.87 464.76,459.25 466.35,459.60 467.94,459.92 469.53,460.20 471.13,460.46 472.72,460.69 474.31,460.90 475.90,461.08 477.49,461.25 479.08,461.40 480.67,461.54 482.26,461.66 483.85,461.77 485.44,461.86 487.04,461.95 488.63,462.03 490.22,462.10 491.81,462.16 493.40,462.21" fill="none" stroke="#c7c7cd" stroke-width="0.9" stroke-opacity="1.0" stroke-linejoin="round"/>
<polyline points="351.80,405.03 353.39,405.04 354.98,405.06 356.57,405.07 358.16,405.09 359.76,405.10 361.35,405.13 362.94,405.15 364.53,405.17 366.12,405.20 367.71,405.23 369.30,405.26 370.89,405.30 372.48,405.34 374.07,405.39 375.67,405.44 377.26,405.49 378.85,405.55 380.44,405.62 382.03,405.70 383.62,405.78 385.21,405.87 386.80,405.97 388.39,406.08 389.98,406.21 391.58,406.34 393.17,406.49 394.76,406.66 396.35,406.84 397.94,407.04 399.53,407.26 401.12,407.50 402.71,407.76 404.30,408.05 405.89,408.36 407.49,408.71 409.08,409.08 410.67,409.49 412.26,409.93 413.85,410.41 415.44,410.92 417.03,411.48 418.62,412.08 420.21,412.72 421.80,413.41 423.40,414.14 424.99,414.92 426.58,415.74 428.17,416.61 429.76,417.52 431.35,418.47 432.94,419.46 434.53,420.49 436.12,421.54 437.71,422.63 439.31,423.73 440.90,424.86 442.49,425.99 444.08,427.13 445.67,428.27 447.26,429.40 448.85,430.52 450.44,431.62 452.03,432.70 453.62,433.75 455.22,434.76 456.81,435.74 458.40,436.68 459.99,437.58 461.58,438.43 463.17,439.24 464.76,440.00 466.35,440.72 467.94,441.40 469.53,442.02 471.13,442.61 472.72,443.16 474.31,443.66 475.90,444.13 477.49,444.56 479.08,444.95 480.67,445.32 482.26,445.65 483.85,445.96 485.44,446.24 487.04,446.50 488.63,446.73 490.22,446.94 491.81,447.14 493.40,447.31" fill="none" stroke="#c7c7cd" stroke-width="0.9" stroke-opacity="1.0" stroke-linejoin="round"/>
<polyline points="351.80,404.17 353.39,404.18 354.98,404.18 356.57,404.18 358.16,404.18 359.76,404.19 361.35,404.19 362.94,404.19 364.53,404.20 366.12,404.20 367.71,404.21 369.30,404.22 370.89,404.22 372.48,404.23 374.07,404.24 375.67,404.25 377.26,404.26 378.85,404.28 380.44,404.29 382.03,404.31 383.62,404.33 385.21,404.35 386.80,404.38 388.39,404.40 389.98,404.44 391.58,404.47 393.17,404.51 394.76,404.56 396.35,404.61 397.94,404.67 399.53,404.74 401.12,404.81 402.71,404.90 404.30,404.99 405.89,405.10 407.49,405.22 409.08,405.36 410.67,405.51 412.26,405.68 413.85,405.88 415.44,406.09 417.03,406.33 418.62,406.61 420.21,406.91 421.80,407.25 423.40,407.62 424.99,408.04 426.58,408.50 428.17,409.00 429.76,409.56 431.35,410.18 432.94,410.85 434.53,411.58 436.12,412.37 437.71,413.22 439.31,414.14 440.90,415.12 442.49,416.16 444.08,417.26 445.67,418.41 447.26,419.61 448.85,420.86 450.44,422.13 452.03,423.43 453.62,424.75 455.22,426.07 456.81,427.38 458.40,428.68 459.99,429.96 461.58,431.21 463.17,432.41 464.76,433.56 466.35,434.66 467.94,435.71 469.53,436.69 471.13,437.61 472.72,438.47 474.31,439.26 475.90,440.00 477.49,440.67 479.08,441.29 480.67,441.85 482.26,442.36 483.85,442.82 485.44,443.24 487.04,443.62 488.63,443.96 490.22,444.26 491.81,444.53 493.40,444.78" fill="none" stroke="#c7c7cd" stroke-width="0.9" stroke-opacity="1.0" stroke-linejoin="round"/>
<polyline points="351.80,408.62 353.39,408.69 354.98,408.76 356.57,408.83 358.16,408.92 359.76,409.01 361.35,409.11 362.94,409.22 364.53,409.34 366.12,409.47 367.71,409.61 369.30,409.77 370.89,409.94 372.48,410.13 374.07,410.33 375.67,410.55 377.26,410.80 378.85,411.06 380.44,411.34 382.03,411.66 383.62,411.99 385.21,412.36 386.80,412.76 388.39,413.19 389.98,413.65 391.58,414.15 393.17,414.70 394.76,415.28 396.35,415.90 397.94,416.57 399.53,417.29 401.12,418.06 402.71,418.88 404.30,419.74 405.89,420.67 407.49,421.64 409.08,422.67 410.67,423.75 412.26,424.88 413.85,426.06 415.44,427.30 417.03,428.57 418.62,429.90 420.21,431.26 421.80,432.65 423.40,434.07 424.99,435.52 426.58,436.99 428.17,438.47 429.76,439.95 431.35,441.44 432.94,442.92 434.53,444.38 436.12,445.83 437.71,447.25 439.31,448.64 440.90,450.00 442.49,451.32 444.08,452.59 445.67,453.82 447.26,454.99 448.85,456.12 450.44,457.20 452.03,458.22 453.62,459.19 455.22,460.11 456.81,460.97 458.40,461.78 459.99,462.54 461.58,463.26 463.17,463.92 464.76,464.54 466.35,465.12 467.94,465.66 469.53,466.16 471.13,466.62 472.72,467.04 474.31,467.44 475.90,467.80 477.49,468.14 479.08,468.44 480.67,468.73 482.26,468.99 483.85,469.23 485.44,469.45 487.04,469.65 488.63,469.84 490.22,470.01 491.81,470.16 493.40,470.30" fill="none" stroke="#c7c7cd" stroke-width="0.9" stroke-opacity="1.0" stroke-linejoin="round"/>
<polyline points="351.80,411.15 353.39,411.26 354.98,411.39 356.57,411.52 358.16,411.68 359.76,411.84 361.35,412.03 362.94,412.23 364.53,412.45 366.12,412.69 367.71,412.95 369.30,413.25 370.89,413.56 372.48,413.91 374.07,414.29 375.67,414.70 377.26,415.15 378.85,415.64 380.44,416.17 382.03,416.75 383.62,417.37 385.21,418.05 386.80,418.77 388.39,419.55 389.98,420.38 391.58,421.28 393.17,422.23 394.76,423.24 396.35,424.31 397.94,425.45 399.53,426.64 401.12,427.89 402.71,429.20 404.30,430.55 405.89,431.96 407.49,433.41 409.08,434.90 410.67,436.43 412.26,437.98 413.85,439.55 415.44,441.13 417.03,442.72 418.62,444.31 420.21,445.89 421.80,447.45 423.40,448.99 424.99,450.50 426.58,451.97 428.17,453.40 429.76,454.79 431.35,456.13 432.94,457.42 434.53,458.66 436.12,459.84 437.71,460.96 439.31,462.03 440.90,463.04 442.49,464.00 444.08,464.89 445.67,465.74 447.26,466.53 448.85,467.27 450.44,467.97 452.03,468.61 453.62,469.22 455.22,469.78 456.81,470.30 458.40,470.78 459.99,471.23 461.58,471.64 463.17,472.03 464.76,472.38 466.35,472.71 467.94,473.01 469.53,473.29 471.13,473.55 472.72,473.79 474.31,474.01 475.90,474.21 477.49,474.39 479.08,474.56 480.67,474.72 482.26,474.86 483.85,474.99 485.44,475.12 487.04,475.23 488.63,475.33 490.22,475.42 491.81,475.51 493.40,475.59" fill="none" stroke="#f0a02c" stroke-width="1.05" stroke-opacity="1.0" stroke-linejoin="round"/>
<polyline points="351.80,403.13 353.39,403.13 354.98,403.14 356.57,403.14 358.16,403.15 359.76,403.15 361.35,403.16 362.94,403.17 364.53,403.18 366.12,403.19 367.71,403.20 369.30,403.21 370.89,403.22 372.48,403.24 374.07,403.26 375.67,403.28 377.26,403.31 378.85,403.34 380.44,403.37 382.03,403.41 383.62,403.46 385.21,403.51 386.80,403.57 388.39,403.64 389.98,403.72 391.58,403.81 393.17,403.91 394.76,404.03 396.35,404.16 397.94,404.32 399.53,404.49 401.12,404.70 402.71,404.93 404.30,405.20 405.89,405.50 407.49,405.85 409.08,406.24 410.67,406.69 412.26,407.21 413.85,407.79 415.44,408.45 417.03,409.20 418.62,410.05 420.21,411.00 421.80,412.08 423.40,413.29 424.99,414.64 426.58,416.14 428.17,417.81 429.76,419.66 431.35,421.68 432.94,423.89 434.53,426.29 436.12,428.87 437.71,431.63 439.31,434.54 440.90,437.59 442.49,440.75 444.08,443.98 445.67,447.24 447.26,450.49 448.85,453.68 450.44,456.77 452.03,459.70 453.62,462.44 455.22,464.96 456.81,467.24 458.40,469.25 459.99,471.01 461.58,472.51 463.17,473.77 464.76,474.81 466.35,475.66 467.94,476.34 469.53,476.87 471.13,477.29 472.72,477.61 474.31,477.85 475.90,478.03 477.49,478.17 479.08,478.27 480.67,478.34 482.26,478.39 483.85,478.43 485.44,478.46 487.04,478.48 488.63,478.49 490.22,478.50 491.81,478.51 493.40,478.51" fill="none" stroke="#f0a02c" stroke-width="1.05" stroke-opacity="1.0" stroke-linejoin="round"/>
<polyline points="351.80,402.90 353.39,402.93 354.98,402.96 356.57,402.99 358.16,403.03 359.76,403.06 361.35,403.10 362.94,403.15 364.53,403.19 366.12,403.24 367.71,403.30 369.30,403.36 370.89,403.42 372.48,403.48 374.07,403.55 375.67,403.63 377.26,403.71 378.85,403.80 380.44,403.89 382.03,403.99 383.62,404.10 385.21,404.21 386.80,404.33 388.39,404.47 389.98,404.61 391.58,404.76 393.17,404.92 394.76,405.09 396.35,405.28 397.94,405.47 399.53,405.68 401.12,405.91 402.71,406.15 404.30,406.41 405.89,406.69 407.49,406.98 409.08,407.30 410.67,407.63 412.26,407.99 413.85,408.37 415.44,408.78 417.03,409.21 418.62,409.68 420.21,410.17 421.80,410.69 423.40,411.25 424.99,411.84 426.58,412.47 428.17,413.13 429.76,413.84 431.35,414.59 432.94,415.38 434.53,416.21 436.12,417.10 437.71,418.03 439.31,419.01 440.90,420.04 442.49,421.12 444.08,422.26 445.67,423.45 447.26,424.69 448.85,425.99 450.44,427.34 452.03,428.75 453.62,430.20 455.22,431.71 456.81,433.27 458.40,434.88 459.99,436.52 461.58,438.21 463.17,439.93 464.76,441.69 466.35,443.47 467.94,445.26 469.53,447.08 471.13,448.89 472.72,450.71 474.31,452.51 475.90,454.30 477.49,456.06 479.08,457.79 480.67,459.47 482.26,461.11 483.85,462.69 485.44,464.20 487.04,465.65 488.63,467.02 490.22,468.31 491.81,469.52 493.40,470.65" fill="none" stroke="#b5123a" stroke-width="1.05" stroke-opacity="1.0" stroke-linejoin="round"/>
<polyline points="351.80,406.23 353.39,406.24 354.98,406.25 356.57,406.26 358.16,406.28 359.76,406.29 361.35,406.31 362.94,406.32 364.53,406.34 366.12,406.36 367.71,406.39 369.30,406.41 370.89,406.44 372.48,406.48 374.07,406.51 375.67,406.55 377.26,406.59 378.85,406.64 380.44,406.70 382.03,406.76 383.62,406.82 385.21,406.89 386.80,406.97 388.39,407.06 389.98,407.16 391.58,407.27 393.17,407.39 394.76,407.52 396.35,407.67 397.94,407.83 399.53,408.01 401.12,408.20 402.71,408.42 404.30,408.65 405.89,408.91 407.49,409.20 409.08,409.52 410.67,409.86 412.26,410.24 413.85,410.65 415.44,411.11 417.03,411.60 418.62,412.14 420.21,412.72 421.80,413.36 423.40,414.05 424.99,414.79 426.58,415.60 428.17,416.46 429.76,417.39 431.35,418.39 432.94,419.45 434.53,420.58 436.12,421.78 437.71,423.05 439.31,424.39 440.90,425.79 442.49,427.25 444.08,428.77 445.67,430.35 447.26,431.97 448.85,433.64 450.44,435.35 452.03,437.08 453.62,438.84 455.22,440.61 456.81,442.38 458.40,444.15 459.99,445.91 461.58,447.66 463.17,449.37 464.76,451.06 466.35,452.71 467.94,454.31 469.53,455.87 471.13,457.37 472.72,458.82 474.31,460.21 475.90,461.54 477.49,462.81 479.08,464.02 480.67,465.17 482.26,466.26 483.85,467.30 485.44,468.27 487.04,469.19 488.63,470.05 490.22,470.86 491.81,471.63 493.40,472.34" fill="none" stroke="#b5123a" stroke-width="1.05" stroke-opacity="1.0" stroke-linejoin="round"/>
<polyline points="351.80,410.44 353.39,410.47 354.98,410.51 356.57,410.55 358.16,410.60 359.76,410.65 361.35,410.71 362.94,410.77 364.53,410.84 366.12,410.92 367.71,411.01 369.30,411.10 370.89,411.20 372.48,411.31 374.07,411.44 375.67,411.57 377.26,411.72 378.85,411.88 380.44,412.06 382.03,412.26 383.62,412.47 385.21,412.71 386.80,412.97 388.39,413.25 389.98,413.56 391.58,413.90 393.17,414.27 394.76,414.67 396.35,415.12 397.94,415.60 399.53,416.12 401.12,416.69 402.71,417.31 404.30,417.98 405.89,418.70 407.49,419.49 409.08,420.33 410.67,421.25 412.26,422.23 413.85,423.28 415.44,424.40 417.03,425.61 418.62,426.88 420.21,428.24 421.80,429.67 423.40,431.19 424.99,432.77 426.58,434.43 428.17,436.16 429.76,437.95 431.35,439.79 432.94,441.68 434.53,443.62 436.12,445.58 437.71,447.55 439.31,449.54 440.90,451.51 442.49,453.47 444.08,455.39 445.67,457.26 447.26,459.08 448.85,460.83 450.44,462.51 452.03,464.09 453.62,465.59 455.22,466.99 456.81,468.29 458.40,469.48 459.99,470.58 461.58,471.57 463.17,472.47 464.76,473.28 466.35,474.00 467.94,474.64 469.53,475.21 471.13,475.70 472.72,476.13 474.31,476.50 475.90,476.83 477.49,477.10 479.08,477.34 480.67,477.55 482.26,477.72 483.85,477.87 485.44,477.99 487.04,478.09 488.63,478.18 490.22,478.25 491.81,478.32 493.40,478.37" fill="none" stroke="#b5123a" stroke-width="1.05" stroke-opacity="1.0" stroke-linejoin="round"/>
<polyline points="351.80,406.28 353.39,406.28 354.98,406.28 356.57,406.28 358.16,406.28 359.76,406.29 361.35,406.29 362.94,406.29 364.53,406.30 366.12,406.30 367.71,406.31 369.30,406.32 370.89,406.33 372.48,406.35 374.07,406.36 375.67,406.38 377.26,406.41 378.85,406.44 380.44,406.49 382.03,406.54 383.62,406.60 385.21,406.68 386.80,406.78 388.39,406.91 389.98,407.06 391.58,407.25 393.17,407.49 394.76,407.78 396.35,408.14 397.94,408.58 399.53,409.12 401.12,409.77 402.71,410.55 404.30,411.49 405.89,412.61 407.49,413.92 409.08,415.44 410.67,417.19 412.26,419.16 413.85,421.35 415.44,423.75 417.03,426.33 418.62,429.06 420.21,431.89 421.80,434.78 423.40,437.69 424.99,440.57 426.58,443.39 428.17,446.11 429.76,448.72 431.35,451.20 432.94,453.53 434.53,455.72 436.12,457.75 437.71,459.64 439.31,461.38 440.90,462.99 442.49,464.46 444.08,465.82 445.67,467.06 447.26,468.19 448.85,469.23 450.44,470.17 452.03,471.04 453.62,471.83 455.22,472.55 456.81,473.20 458.40,473.80 459.99,474.34 461.58,474.84 463.17,475.29 464.76,475.70 466.35,476.07 467.94,476.41 469.53,476.72 471.13,477.00 472.72,477.26 474.31,477.49 475.90,477.71 477.49,477.90 479.08,478.08 480.67,478.24 482.26,478.38 483.85,478.52 485.44,478.64 487.04,478.75 488.63,478.85 490.22,478.94 491.81,479.02 493.40,479.10" fill="none" stroke="#b5123a" stroke-width="1.05" stroke-opacity="1.0" stroke-linejoin="round"/>
<circle cx="415.87" cy="441.40" r="2.6" fill="#f6cf7a" fill-opacity="0.7" stroke="#f0a02c" stroke-width="0.9"/>
<circle cx="425.43" cy="441.40" r="2.6" fill="none" fill-opacity="0.7" stroke="#b5123a" stroke-width="0.9"/>
<circle cx="433.22" cy="441.40" r="2.6" fill="none" fill-opacity="0.7" stroke="#b5123a" stroke-width="0.9"/>
<circle cx="443.13" cy="441.40" r="2.6" fill="#f6cf7a" fill-opacity="0.7" stroke="#f0a02c" stroke-width="0.9"/>
<circle cx="455.52" cy="441.40" r="2.6" fill="none" fill-opacity="0.7" stroke="#b5123a" stroke-width="0.9"/>
<circle cx="464.37" cy="441.40" r="2.6" fill="none" fill-opacity="0.7" stroke="#b5123a" stroke-width="0.9"/>
<text x="494.8" y="468.1" font-size="4.6" fill="#b5123a" font-weight="normal" text-anchor="start" fill-opacity="0.8">OCIM1</text>
<text x="494.8" y="471.6" font-size="4.6" fill="#b5123a" font-weight="normal" text-anchor="start" fill-opacity="0.8">F36P</text>
<text x="494.8" y="476.4" font-size="4.6" fill="#f0a02c" font-weight="normal" text-anchor="start" fill-opacity="0.8">CMK</text>
<text x="494.8" y="480.8" font-size="4.6" fill="#b5123a" font-weight="normal" text-anchor="start" fill-opacity="0.8">HEL</text>
<text x="467.1" y="484.1" font-size="4.6" fill="#b5123a" font-weight="normal" text-anchor="start" fill-opacity="0.8">TF1</text>
<text x="476.9" y="484.1" font-size="4.6" fill="#f0a02c" font-weight="normal" text-anchor="start" fill-opacity="0.8">MO7</text>
<text x="423.5" y="505.4" font-size="10.0" fill="#2b2b2b" font-weight="normal" text-anchor="middle" textLength="67.0" lengthAdjust="spacingAndGlyphs">Concentration (nM)</text>
</svg></body></html>
